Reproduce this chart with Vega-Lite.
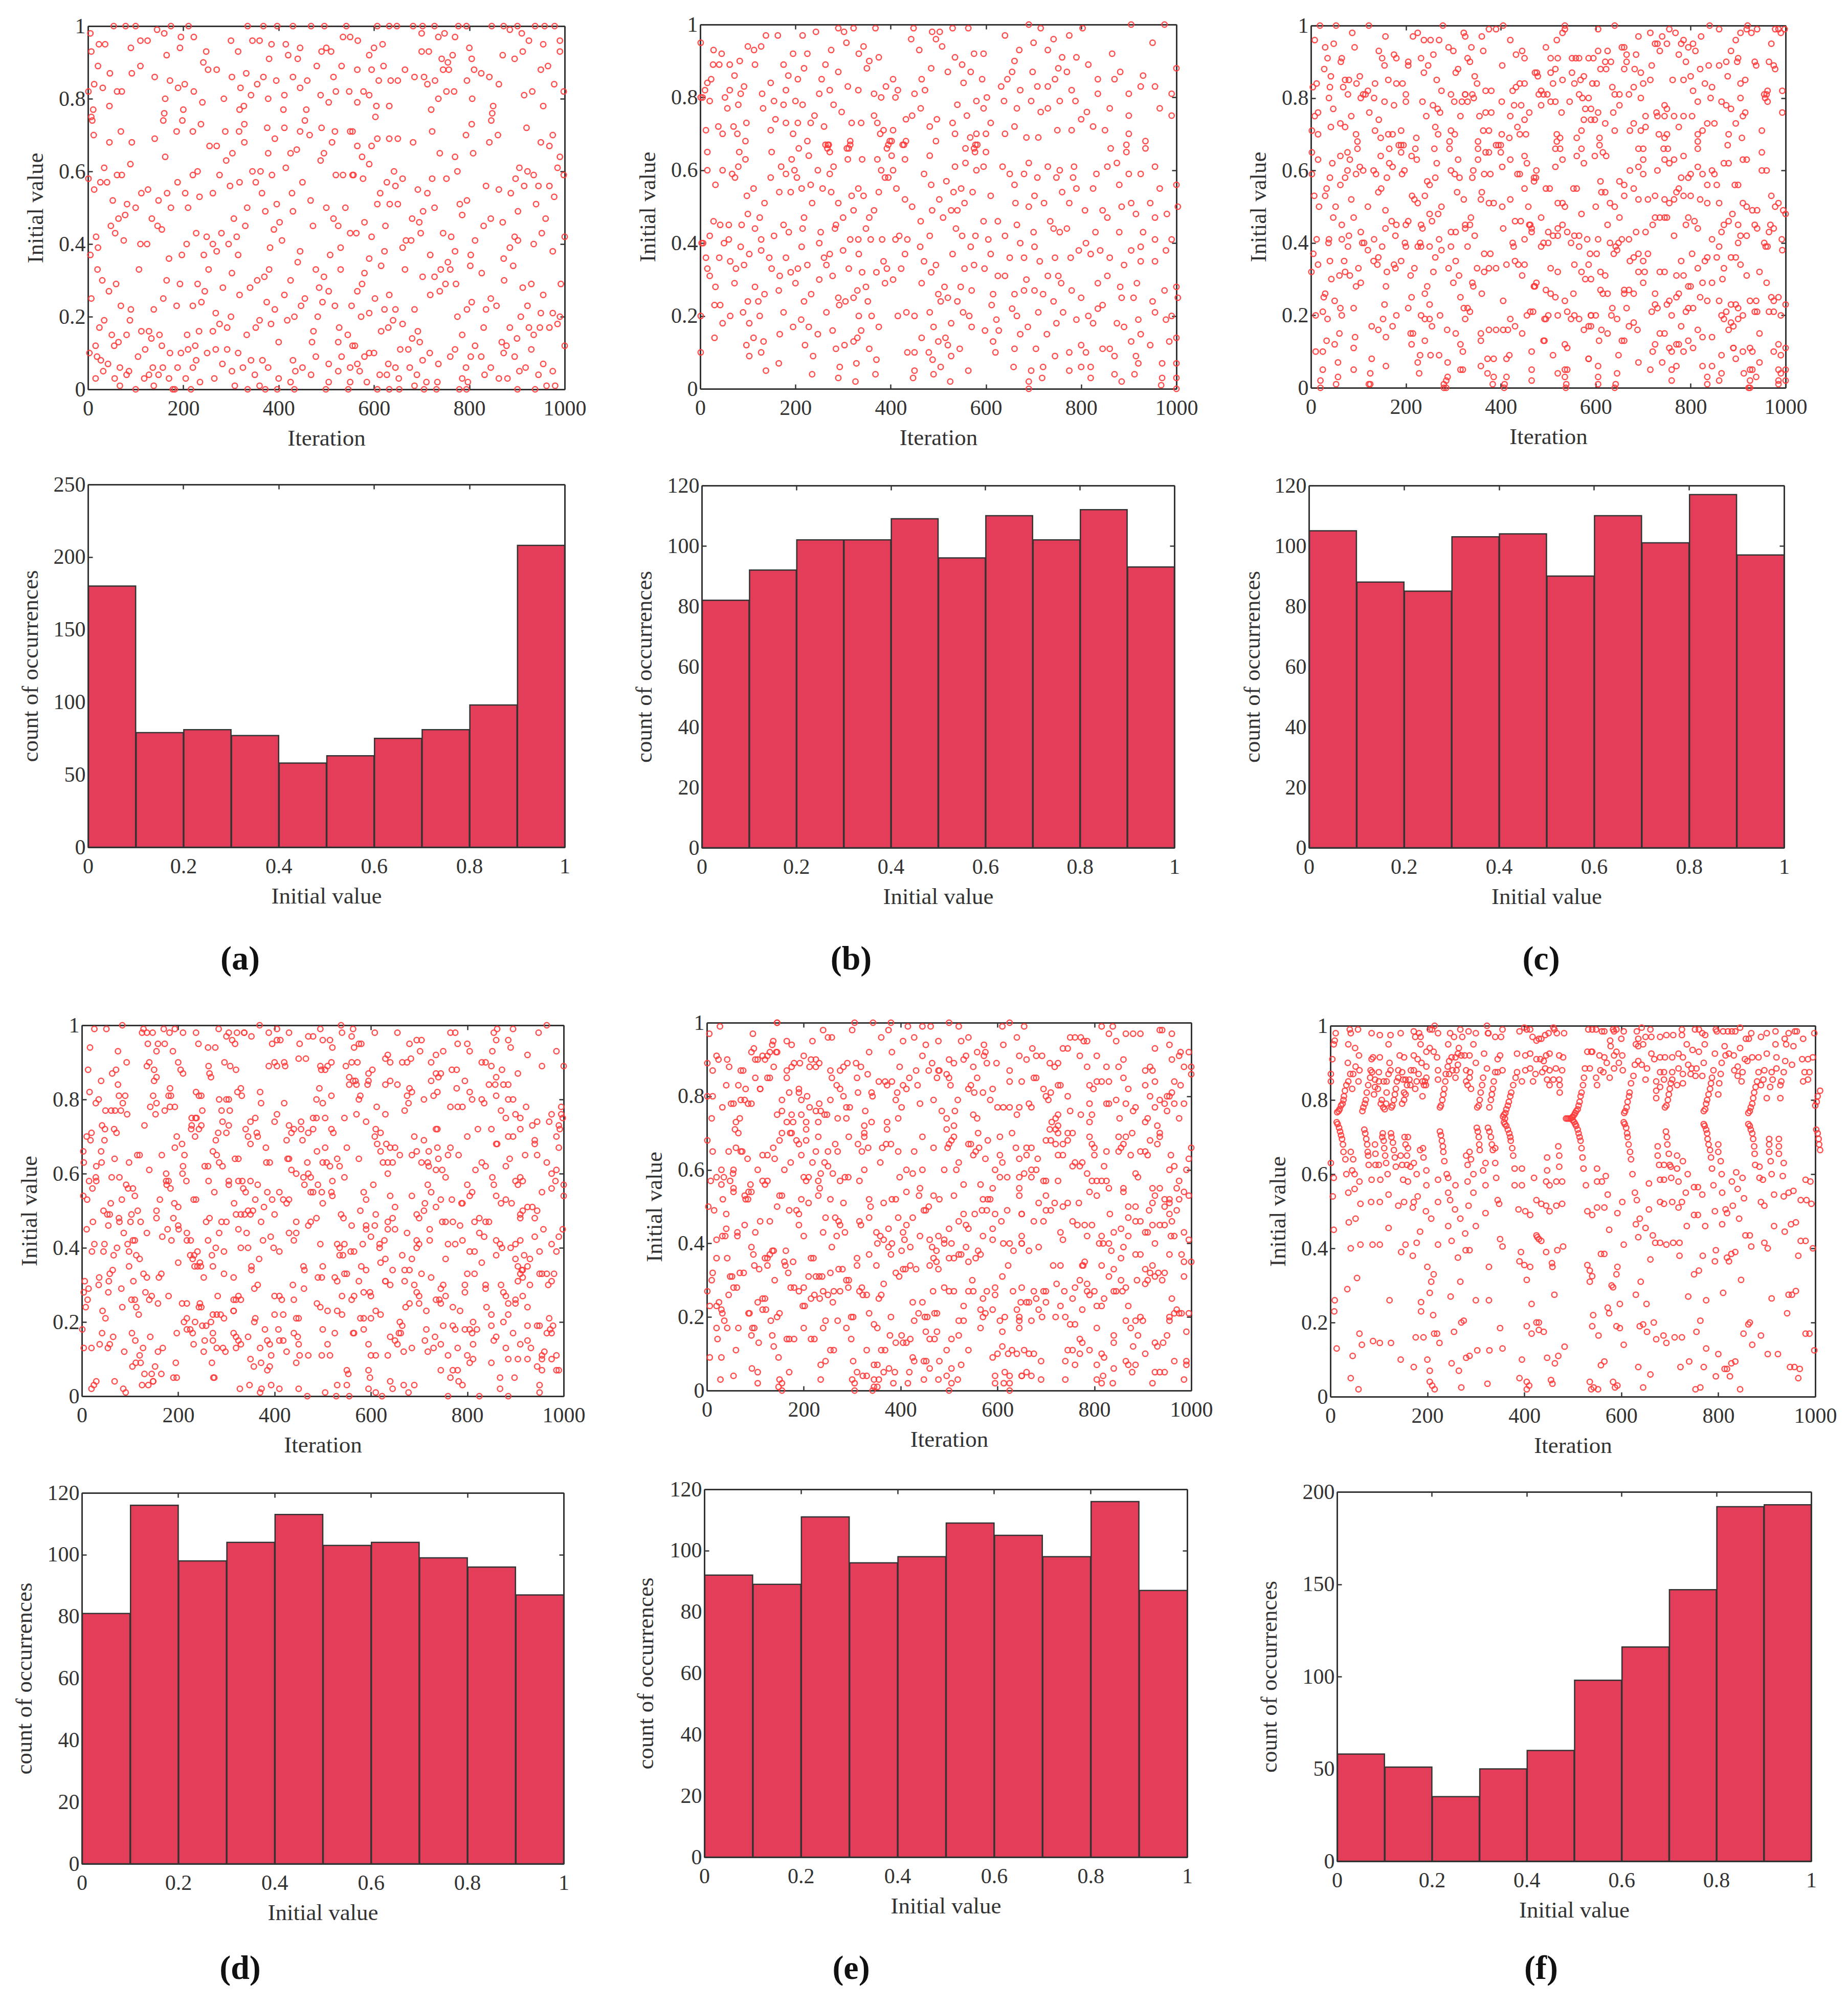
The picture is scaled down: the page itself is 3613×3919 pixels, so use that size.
{"$schema":"https://vega.github.io/schema/vega-lite/v6.json","padding":{"left":25,"top":27,"right":0,"bottom":0},"background":"white","columns":3,"align":"none","bounds":"flush","spacing":{"column":230,"row":181},
"config":{"view":{"stroke":null},"font":"Liberation Serif","point":{"size":110,"stroke":"#ff3b3b","strokeWidth":2.5,"fill":null,"filled":false,"opacity":0.9},"bar":{"fill":"#e33d5a","stroke":"#333","strokeWidth":2.5},"rule":{"opacity":0},"axis":{"grid":false,"tickSize":-9,"tickColor":"#333","tickWidth":2.5,"domainColor":"#333","domainWidth":3,"labelFont":"Liberation Serif","titleFont":"Liberation Serif","labelFontSize":42,"titleFontSize":45,"labelColor":"#333","titleColor":"#333","titleFontWeight":"normal","labelOverlap":false,"labelFlush":false,"labelBound":false},"axisX":{"titleY":95,"titleBaseline":"middle","labelPadding":26},"axisY":{"titleX":-103,"titleBaseline":"middle","labelPadding":14},"axisTop":{"labels":false},"axisRight":{"labels":false},"title":{"font":"Liberation Serif","fontSize":66,"fontWeight":"bold","color":"#111","orient":"bottom","frame":"group"}},
"datasets":{
"sa":[{"x":5,"y":0.98},{"x":7,"y":0.93},{"x":23,"y":0.95},{"x":36,"y":0.95},{"x":21,"y":0.89},{"x":46,"y":0.87},{"x":31,"y":0.83},{"x":13,"y":0.84},{"x":1,"y":0.82},{"x":61,"y":0.82},{"x":71,"y":0.82},{"x":45,"y":0.78},{"x":11,"y":0.77},{"x":7,"y":0.75},{"x":9,"y":0.74},{"x":12,"y":0.7},{"x":69,"y":0.71},{"x":45,"y":0.68},{"x":92,"y":0.68},{"x":89,"y":0.62},{"x":34,"y":0.61},{"x":61,"y":0.59},{"x":71,"y":0.59},{"x":1,"y":0.58},{"x":26,"y":0.57},{"x":40,"y":0.57},{"x":13,"y":0.55},{"x":52,"y":0.52},{"x":82,"y":0.51},{"x":100,"y":0.5},{"x":78,"y":0.48},{"x":64,"y":0.47},{"x":48,"y":0.45},{"x":57,"y":0.43},{"x":75,"y":0.41},{"x":17,"y":0.42},{"x":21,"y":0.39},{"x":5,"y":0.37},{"x":20,"y":0.33},{"x":30,"y":0.3},{"x":59,"y":0.29},{"x":44,"y":0.27},{"x":7,"y":0.25},{"x":69,"y":0.23},{"x":90,"y":0.22},{"x":88,"y":0.19},{"x":34,"y":0.19},{"x":24,"y":0.17},{"x":50,"y":0.15},{"x":81,"y":0.15},{"x":64,"y":0.13},{"x":55,"y":0.12},{"x":16,"y":0.12},{"x":3,"y":0.1},{"x":19,"y":0.09},{"x":27,"y":0.08},{"x":42,"y":0.07},{"x":67,"y":0.06},{"x":32,"y":0.05},{"x":86,"y":0.05},{"x":16,"y":0.03},{"x":56,"y":0.03},{"x":81,"y":0.04},{"x":67,"y":0.01},{"x":54,"y":1},{"x":79,"y":1},{"x":100,"y":1},{"x":174,"y":1},{"x":211,"y":1},{"x":335,"y":1},{"x":368,"y":1},{"x":397,"y":1},{"x":430,"y":1},{"x":468,"y":1},{"x":496,"y":1},{"x":542,"y":1},{"x":607,"y":1},{"x":632,"y":1},{"x":648,"y":1},{"x":682,"y":1},{"x":702,"y":1},{"x":727,"y":1},{"x":777,"y":1},{"x":794,"y":1},{"x":847,"y":1},{"x":872,"y":1},{"x":901,"y":1},{"x":938,"y":1},{"x":958,"y":1},{"x":979,"y":1},{"x":100,"y":0},{"x":178,"y":0},{"x":182,"y":0},{"x":216,"y":0},{"x":335,"y":0},{"x":372,"y":0},{"x":397,"y":0},{"x":433,"y":0},{"x":499,"y":0},{"x":546,"y":0},{"x":607,"y":0},{"x":632,"y":0},{"x":653,"y":0},{"x":705,"y":0},{"x":731,"y":0},{"x":779,"y":0},{"x":794,"y":0},{"x":901,"y":0},{"x":938,"y":0},{"x":110,"y":0.96},{"x":125,"y":0.96},{"x":90,"y":0.94},{"x":145,"y":0.99},{"x":160,"y":0.98},{"x":110,"y":0.89},{"x":92,"y":0.87},{"x":140,"y":0.86},{"x":165,"y":0.92},{"x":172,"y":0.85},{"x":160,"y":0.76},{"x":158,"y":0.74},{"x":162,"y":0.8},{"x":140,"y":0.69},{"x":162,"y":0.64},{"x":112,"y":0.54},{"x":126,"y":0.55},{"x":166,"y":0.54},{"x":148,"y":0.52},{"x":174,"y":0.5},{"x":134,"y":0.47},{"x":146,"y":0.45},{"x":155,"y":0.44},{"x":110,"y":0.4},{"x":124,"y":0.4},{"x":170,"y":0.36},{"x":107,"y":0.33},{"x":165,"y":0.3},{"x":158,"y":0.25},{"x":138,"y":0.22},{"x":112,"y":0.16},{"x":128,"y":0.16},{"x":150,"y":0.15},{"x":133,"y":0.14},{"x":155,"y":0.12},{"x":120,"y":0.11},{"x":172,"y":0.1},{"x":105,"y":0.09},{"x":157,"y":0.06},{"x":136,"y":0.06},{"x":128,"y":0.04},{"x":148,"y":0.04},{"x":170,"y":0.03},{"x":118,"y":0.03},{"x":138,"y":0.01},{"x":193,"y":0.94},{"x":195,"y":0.97},{"x":222,"y":0.97},{"x":242,"y":0.9},{"x":248,"y":0.93},{"x":252,"y":0.88},{"x":270,"y":0.88},{"x":189,"y":0.83},{"x":203,"y":0.84},{"x":222,"y":0.82},{"x":240,"y":0.79},{"x":200,"y":0.77},{"x":198,"y":0.74},{"x":186,"y":0.71},{"x":220,"y":0.71},{"x":237,"y":0.73},{"x":255,"y":0.67},{"x":270,"y":0.67},{"x":290,"y":0.63},{"x":188,"y":0.57},{"x":220,"y":0.59},{"x":230,"y":0.6},{"x":204,"y":0.54},{"x":210,"y":0.5},{"x":234,"y":0.53},{"x":262,"y":0.54},{"x":276,"y":0.59},{"x":298,"y":0.56},{"x":227,"y":0.43},{"x":249,"y":0.42},{"x":262,"y":0.4},{"x":270,"y":0.38},{"x":280,"y":0.43},{"x":295,"y":0.4},{"x":207,"y":0.4},{"x":197,"y":0.37},{"x":243,"y":0.37},{"x":253,"y":0.33},{"x":193,"y":0.29},{"x":230,"y":0.29},{"x":283,"y":0.28},{"x":245,"y":0.27},{"x":186,"y":0.23},{"x":220,"y":0.23},{"x":238,"y":0.24},{"x":268,"y":0.21},{"x":208,"y":0.15},{"x":233,"y":0.16},{"x":262,"y":0.16},{"x":276,"y":0.18},{"x":292,"y":0.17},{"x":225,"y":0.12},{"x":195,"y":0.1},{"x":210,"y":0.11},{"x":250,"y":0.1},{"x":268,"y":0.11},{"x":292,"y":0.11},{"x":282,"y":0.07},{"x":227,"y":0.08},{"x":220,"y":0.06},{"x":188,"y":0.06},{"x":265,"y":0.03},{"x":205,"y":0.03},{"x":235,"y":0.02},{"x":300,"y":0.96},{"x":315,"y":0.93},{"x":302,"y":0.86},{"x":320,"y":0.83},{"x":332,"y":0.87},{"x":285,"y":0.8},{"x":318,"y":0.77},{"x":327,"y":0.78},{"x":328,"y":0.73},{"x":317,"y":0.71},{"x":288,"y":0.71},{"x":328,"y":0.68},{"x":303,"y":0.65},{"x":318,"y":0.57},{"x":334,"y":0.5},{"x":306,"y":0.47},{"x":330,"y":0.45},{"x":312,"y":0.42},{"x":315,"y":0.37},{"x":302,"y":0.32},{"x":318,"y":0.26},{"x":300,"y":0.2},{"x":333,"y":0.15},{"x":315,"y":0.1},{"x":302,"y":0.05},{"x":325,"y":0.06},{"x":308,"y":0.01},{"x":345,"y":0.96},{"x":360,"y":0.96},{"x":380,"y":0.91},{"x":385,"y":0.95},{"x":395,"y":0.85},{"x":355,"y":0.84},{"x":368,"y":0.86},{"x":342,"y":0.81},{"x":378,"y":0.8},{"x":376,"y":0.72},{"x":392,"y":0.69},{"x":378,"y":0.65},{"x":345,"y":0.6},{"x":362,"y":0.6},{"x":352,"y":0.57},{"x":365,"y":0.54},{"x":372,"y":0.49},{"x":386,"y":0.59},{"x":396,"y":0.51},{"x":390,"y":0.44},{"x":402,"y":0.46},{"x":407,"y":0.41},{"x":382,"y":0.39},{"x":380,"y":0.33},{"x":340,"y":0.28},{"x":355,"y":0.3},{"x":370,"y":0.31},{"x":375,"y":0.24},{"x":392,"y":0.22},{"x":352,"y":0.17},{"x":360,"y":0.19},{"x":384,"y":0.18},{"x":400,"y":0.13},{"x":342,"y":0.08},{"x":366,"y":0.08},{"x":378,"y":0.06},{"x":350,"y":0.04},{"x":400,"y":0.03},{"x":360,"y":0.01},{"x":415,"y":0.95},{"x":420,"y":0.92},{"x":440,"y":0.91},{"x":445,"y":0.94},{"x":430,"y":0.86},{"x":412,"y":0.81},{"x":445,"y":0.83},{"x":460,"y":0.85},{"x":410,"y":0.77},{"x":458,"y":0.77},{"x":412,"y":0.72},{"x":445,"y":0.71},{"x":465,"y":0.7},{"x":455,"y":0.74},{"x":425,"y":0.65},{"x":438,"y":0.66},{"x":415,"y":0.61},{"x":450,"y":0.57},{"x":428,"y":0.54},{"x":467,"y":0.52},{"x":430,"y":0.49},{"x":472,"y":0.45},{"x":445,"y":0.38},{"x":440,"y":0.35},{"x":478,"y":0.33},{"x":425,"y":0.3},{"x":412,"y":0.26},{"x":455,"y":0.25},{"x":447,"y":0.23},{"x":485,"y":0.28},{"x":433,"y":0.2},{"x":418,"y":0.19},{"x":482,"y":0.2},{"x":473,"y":0.16},{"x":470,"y":0.13},{"x":478,"y":0.09},{"x":430,"y":0.08},{"x":450,"y":0.06},{"x":435,"y":0.05},{"x":468,"y":0.04},{"x":425,"y":0.02},{"x":500,"y":0.94},{"x":490,"y":0.93},{"x":510,"y":0.93},{"x":535,"y":0.97},{"x":550,"y":0.97},{"x":480,"y":0.89},{"x":515,"y":0.86},{"x":532,"y":0.89},{"x":488,"y":0.81},{"x":505,"y":0.79},{"x":520,"y":0.82},{"x":548,"y":0.82},{"x":490,"y":0.72},{"x":518,"y":0.71},{"x":550,"y":0.71},{"x":512,"y":0.68},{"x":495,"y":0.65},{"x":488,"y":0.63},{"x":520,"y":0.59},{"x":535,"y":0.59},{"x":557,"y":0.59},{"x":500,"y":0.5},{"x":540,"y":0.5},{"x":515,"y":0.47},{"x":525,"y":0.45},{"x":550,"y":0.43},{"x":530,"y":0.39},{"x":508,"y":0.37},{"x":530,"y":0.33},{"x":495,"y":0.31},{"x":505,"y":0.27},{"x":492,"y":0.24},{"x":518,"y":0.23},{"x":553,"y":0.23},{"x":527,"y":0.17},{"x":545,"y":0.15},{"x":525,"y":0.13},{"x":555,"y":0.12},{"x":532,"y":0.09},{"x":505,"y":0.07},{"x":550,"y":0.06},{"x":525,"y":0.05},{"x":505,"y":0.02},{"x":550,"y":0.02},{"x":566,"y":0.96},{"x":590,"y":0.92},{"x":600,"y":0.94},{"x":618,"y":0.95},{"x":565,"y":0.88},{"x":595,"y":0.88},{"x":610,"y":0.85},{"x":620,"y":0.89},{"x":635,"y":0.85},{"x":650,"y":0.85},{"x":578,"y":0.82},{"x":565,"y":0.79},{"x":590,"y":0.81},{"x":605,"y":0.78},{"x":603,"y":0.75},{"x":632,"y":0.78},{"x":555,"y":0.71},{"x":565,"y":0.67},{"x":595,"y":0.67},{"x":607,"y":0.69},{"x":632,"y":0.69},{"x":650,"y":0.69},{"x":575,"y":0.64},{"x":590,"y":0.62},{"x":642,"y":0.6},{"x":555,"y":0.59},{"x":577,"y":0.58},{"x":627,"y":0.57},{"x":645,"y":0.56},{"x":660,"y":0.58},{"x":613,"y":0.54},{"x":607,"y":0.51},{"x":633,"y":0.51},{"x":650,"y":0.51},{"x":580,"y":0.46},{"x":563,"y":0.43},{"x":624,"y":0.45},{"x":595,"y":0.42},{"x":660,"y":0.39},{"x":667,"y":0.41},{"x":678,"y":0.41},{"x":622,"y":0.38},{"x":590,"y":0.36},{"x":615,"y":0.34},{"x":665,"y":0.33},{"x":580,"y":0.32},{"x":575,"y":0.29},{"x":565,"y":0.27},{"x":602,"y":0.25},{"x":632,"y":0.26},{"x":590,"y":0.21},{"x":622,"y":0.22},{"x":645,"y":0.22},{"x":573,"y":0.2},{"x":615,"y":0.16},{"x":630,"y":0.17},{"x":640,"y":0.19},{"x":660,"y":0.18},{"x":560,"y":0.12},{"x":590,"y":0.1},{"x":600,"y":0.1},{"x":580,"y":0.09},{"x":655,"y":0.11},{"x":672,"y":0.11},{"x":630,"y":0.07},{"x":645,"y":0.06},{"x":565,"y":0.07},{"x":570,"y":0.05},{"x":585,"y":0.02},{"x":612,"y":0.04},{"x":627,"y":0.04},{"x":652,"y":0.03},{"x":675,"y":0.06},{"x":690,"y":0.04},{"x":710,"y":0.02},{"x":685,"y":0.01},{"x":733,"y":0.02},{"x":700,"y":0.98},{"x":735,"y":0.97},{"x":748,"y":0.98},{"x":770,"y":0.97},{"x":700,"y":0.93},{"x":715,"y":0.93},{"x":742,"y":0.91},{"x":755,"y":0.9},{"x":765,"y":0.92},{"x":745,"y":0.88},{"x":757,"y":0.88},{"x":665,"y":0.88},{"x":685,"y":0.86},{"x":705,"y":0.86},{"x":728,"y":0.85},{"x":712,"y":0.84},{"x":735,"y":0.8},{"x":752,"y":0.82},{"x":768,"y":0.82},{"x":720,"y":0.77},{"x":722,"y":0.71},{"x":682,"y":0.68},{"x":738,"y":0.65},{"x":770,"y":0.64},{"x":722,"y":0.58},{"x":752,"y":0.58},{"x":775,"y":0.6},{"x":692,"y":0.55},{"x":712,"y":0.54},{"x":780,"y":0.51},{"x":795,"y":0.52},{"x":727,"y":0.5},{"x":703,"y":0.49},{"x":785,"y":0.48},{"x":680,"y":0.47},{"x":695,"y":0.46},{"x":698,"y":0.43},{"x":745,"y":0.43},{"x":762,"y":0.42},{"x":770,"y":0.38},{"x":718,"y":0.37},{"x":755,"y":0.35},{"x":760,"y":0.33},{"x":740,"y":0.33},{"x":727,"y":0.31},{"x":702,"y":0.31},{"x":750,"y":0.29},{"x":772,"y":0.29},{"x":738,"y":0.27},{"x":718,"y":0.26},{"x":685,"y":0.22},{"x":795,"y":0.22},{"x":775,"y":0.2},{"x":805,"y":0.24},{"x":692,"y":0.16},{"x":680,"y":0.14},{"x":696,"y":0.13},{"x":785,"y":0.15},{"x":717,"y":0.1},{"x":760,"y":0.09},{"x":770,"y":0.11},{"x":803,"y":0.09},{"x":702,"y":0.08},{"x":735,"y":0.07},{"x":793,"y":0.06},{"x":785,"y":0.03},{"x":797,"y":0.02},{"x":800,"y":0.94},{"x":805,"y":0.91},{"x":810,"y":0.88},{"x":795,"y":0.85},{"x":825,"y":0.87},{"x":842,"y":0.86},{"x":806,"y":0.8},{"x":862,"y":0.84},{"x":870,"y":0.92},{"x":805,"y":0.73},{"x":793,"y":0.7},{"x":842,"y":0.68},{"x":860,"y":0.7},{"x":850,"y":0.78},{"x":848,"y":0.76},{"x":846,"y":0.74},{"x":808,"y":0.65},{"x":835,"y":0.56},{"x":862,"y":0.55},{"x":887,"y":0.54},{"x":897,"y":0.58},{"x":845,"y":0.47},{"x":870,"y":0.46},{"x":830,"y":0.45},{"x":812,"y":0.41},{"x":803,"y":0.37},{"x":802,"y":0.34},{"x":826,"y":0.32},{"x":872,"y":0.36},{"x":873,"y":0.3},{"x":845,"y":0.25},{"x":835,"y":0.22},{"x":857,"y":0.23},{"x":830,"y":0.17},{"x":868,"y":0.13},{"x":812,"y":0.12},{"x":872,"y":0.1},{"x":825,"y":0.09},{"x":832,"y":0.04},{"x":845,"y":0.06},{"x":862,"y":0.03},{"x":880,"y":0.03},{"x":885,"y":0.99},{"x":910,"y":0.98},{"x":925,"y":0.96},{"x":955,"y":0.95},{"x":990,"y":0.96},{"x":912,"y":0.93},{"x":895,"y":0.91},{"x":990,"y":0.93},{"x":950,"y":0.88},{"x":965,"y":0.89},{"x":978,"y":0.84},{"x":998,"y":0.82},{"x":915,"y":0.81},{"x":932,"y":0.82},{"x":955,"y":0.78},{"x":920,"y":0.72},{"x":975,"y":0.7},{"x":950,"y":0.68},{"x":968,"y":0.67},{"x":990,"y":0.64},{"x":905,"y":0.61},{"x":922,"y":0.6},{"x":985,"y":0.61},{"x":998,"y":0.59},{"x":935,"y":0.59},{"x":915,"y":0.56},{"x":945,"y":0.56},{"x":968,"y":0.56},{"x":978,"y":0.53},{"x":940,"y":0.51},{"x":902,"y":0.49},{"x":960,"y":0.47},{"x":895,"y":0.42},{"x":885,"y":0.39},{"x":902,"y":0.41},{"x":935,"y":0.4},{"x":952,"y":0.43},{"x":975,"y":0.38},{"x":1000,"y":0.42},{"x":892,"y":0.34},{"x":912,"y":0.28},{"x":930,"y":0.29},{"x":992,"y":0.29},{"x":955,"y":0.26},{"x":922,"y":0.23},{"x":950,"y":0.21},{"x":975,"y":0.21},{"x":990,"y":0.2},{"x":985,"y":0.18},{"x":908,"y":0.2},{"x":885,"y":0.17},{"x":925,"y":0.17},{"x":948,"y":0.17},{"x":968,"y":0.17},{"x":900,"y":0.14},{"x":935,"y":0.15},{"x":878,"y":0.12},{"x":895,"y":0.09},{"x":930,"y":0.11},{"x":1000,"y":0.12},{"x":918,"y":0.06},{"x":905,"y":0.05},{"x":955,"y":0.07},{"x":975,"y":0.05},{"x":945,"y":0.04},{"x":962,"y":0.01},{"x":980,"y":0.01}],
"sb":[{"x":1,"y":0.95},{"x":28,"y":0.93},{"x":45,"y":0.92},{"x":62,"y":0.89},{"x":83,"y":0.9},{"x":27,"y":0.89},{"x":40,"y":0.89},{"x":23,"y":0.85},{"x":15,"y":0.84},{"x":10,"y":0.82},{"x":5,"y":0.8},{"x":1,"y":0.8},{"x":20,"y":0.79},{"x":52,"y":0.8},{"x":57,"y":0.77},{"x":62,"y":0.82},{"x":72,"y":0.86},{"x":92,"y":0.83},{"x":85,"y":0.81},{"x":80,"y":0.78},{"x":97,"y":0.73},{"x":100,"y":0.94},{"x":113,"y":0.93},{"x":128,"y":0.94},{"x":138,"y":0.97},{"x":163,"y":0.97},{"x":115,"y":0.89},{"x":175,"y":0.89},{"x":130,"y":0.81},{"x":148,"y":0.84},{"x":155,"y":0.79},{"x":132,"y":0.77},{"x":175,"y":0.78},{"x":185,"y":0.86},{"x":180,"y":0.82},{"x":158,"y":0.74},{"x":148,"y":0.71},{"x":180,"y":0.73},{"x":12,"y":0.71},{"x":38,"y":0.72},{"x":47,"y":0.7},{"x":70,"y":0.72},{"x":78,"y":0.7},{"x":95,"y":0.68},{"x":15,"y":0.65},{"x":82,"y":0.65},{"x":95,"y":0.63},{"x":150,"y":0.65},{"x":170,"y":0.61},{"x":15,"y":0.6},{"x":47,"y":0.6},{"x":80,"y":0.61},{"x":67,"y":0.59},{"x":73,"y":0.58},{"x":148,"y":0.58},{"x":180,"y":0.59},{"x":32,"y":0.56},{"x":112,"y":0.55},{"x":98,"y":0.53},{"x":166,"y":0.54},{"x":190,"y":0.54},{"x":135,"y":0.51},{"x":100,"y":0.48},{"x":125,"y":0.47},{"x":28,"y":0.46},{"x":42,"y":0.45},{"x":60,"y":0.45},{"x":87,"y":0.45},{"x":115,"y":0.44},{"x":20,"y":0.42},{"x":3,"y":0.4},{"x":6,"y":0.4},{"x":50,"y":0.4},{"x":60,"y":0.41},{"x":85,"y":0.39},{"x":128,"y":0.41},{"x":155,"y":0.42},{"x":175,"y":0.45},{"x":186,"y":0.43},{"x":128,"y":0.38},{"x":12,"y":0.36},{"x":40,"y":0.36},{"x":63,"y":0.35},{"x":92,"y":0.34},{"x":103,"y":0.37},{"x":145,"y":0.36},{"x":180,"y":0.36},{"x":205,"y":0.33},{"x":15,"y":0.33},{"x":75,"y":0.33},{"x":150,"y":0.33},{"x":167,"y":0.31},{"x":190,"y":0.32},{"x":200,"y":0.29},{"x":20,"y":0.31},{"x":72,"y":0.29},{"x":32,"y":0.28},{"x":115,"y":0.28},{"x":165,"y":0.27},{"x":135,"y":0.26},{"x":100,"y":0.24},{"x":122,"y":0.24},{"x":30,"y":0.23},{"x":42,"y":0.23},{"x":175,"y":0.21},{"x":63,"y":0.2},{"x":90,"y":0.21},{"x":125,"y":0.2},{"x":1,"y":0.2},{"x":47,"y":0.18},{"x":103,"y":0.18},{"x":195,"y":0.17},{"x":30,"y":0.14},{"x":167,"y":0.15},{"x":112,"y":0.14},{"x":97,"y":0.12},{"x":133,"y":0.13},{"x":128,"y":0.1},{"x":1,"y":0.1},{"x":103,"y":0.09},{"x":165,"y":0.07},{"x":138,"y":0.05},{"x":215,"y":0.97},{"x":243,"y":0.98},{"x":225,"y":0.92},{"x":218,"y":0.88},{"x":195,"y":0.92},{"x":263,"y":0.89},{"x":290,"y":0.87},{"x":275,"y":0.93},{"x":290,"y":0.99},{"x":205,"y":0.85},{"x":255,"y":0.85},{"x":250,"y":0.81},{"x":272,"y":0.82},{"x":200,"y":0.79},{"x":215,"y":0.78},{"x":280,"y":0.78},{"x":297,"y":0.76},{"x":240,"y":0.75},{"x":260,"y":0.72},{"x":205,"y":0.73},{"x":232,"y":0.73},{"x":195,"y":0.7},{"x":225,"y":0.68},{"x":268,"y":0.67},{"x":272,"y":0.65},{"x":207,"y":0.66},{"x":192,"y":0.63},{"x":228,"y":0.64},{"x":280,"y":0.61},{"x":198,"y":0.6},{"x":247,"y":0.6},{"x":272,"y":0.59},{"x":203,"y":0.58},{"x":232,"y":0.56},{"x":257,"y":0.55},{"x":275,"y":0.54},{"x":213,"y":0.55},{"x":290,"y":0.51},{"x":235,"y":0.51},{"x":218,"y":0.47},{"x":285,"y":0.45},{"x":215,"y":0.44},{"x":253,"y":0.43},{"x":283,"y":0.44},{"x":250,"y":0.4},{"x":213,"y":0.39},{"x":260,"y":0.36},{"x":272,"y":0.37},{"x":225,"y":0.34},{"x":265,"y":0.34},{"x":250,"y":0.3},{"x":278,"y":0.31},{"x":290,"y":0.25},{"x":233,"y":0.26},{"x":218,"y":0.24},{"x":265,"y":0.21},{"x":292,"y":0.23},{"x":212,"y":0.19},{"x":228,"y":0.17},{"x":247,"y":0.15},{"x":278,"y":0.16},{"x":285,"y":0.11},{"x":220,"y":0.12},{"x":237,"y":0.09},{"x":293,"y":0.06},{"x":235,"y":0.04},{"x":290,"y":0.03},{"x":263,"y":0.67},{"x":267,"y":0.66},{"x":270,"y":0.67},{"x":312,"y":0.66},{"x":315,"y":0.67},{"x":308,"y":0.66},{"x":302,"y":0.98},{"x":322,"y":0.99},{"x":307,"y":0.95},{"x":343,"y":0.94},{"x":368,"y":0.99},{"x":333,"y":0.92},{"x":350,"y":0.88},{"x":355,"y":0.9},{"x":375,"y":0.91},{"x":310,"y":0.83},{"x":332,"y":0.82},{"x":365,"y":0.81},{"x":380,"y":0.8},{"x":390,"y":0.83},{"x":405,"y":0.85},{"x":415,"y":0.82},{"x":410,"y":0.8},{"x":365,"y":0.75},{"x":372,"y":0.73},{"x":318,"y":0.73},{"x":338,"y":0.73},{"x":385,"y":0.71},{"x":405,"y":0.71},{"x":378,"y":0.7},{"x":432,"y":0.74},{"x":445,"y":0.75},{"x":315,"y":0.68},{"x":395,"y":0.67},{"x":398,"y":0.68},{"x":402,"y":0.68},{"x":392,"y":0.66},{"x":402,"y":0.64},{"x":425,"y":0.67},{"x":428,"y":0.67},{"x":432,"y":0.68},{"x":430,"y":0.63},{"x":310,"y":0.63},{"x":340,"y":0.63},{"x":372,"y":0.63},{"x":380,"y":0.6},{"x":405,"y":0.6},{"x":388,"y":0.58},{"x":395,"y":0.58},{"x":412,"y":0.55},{"x":332,"y":0.55},{"x":343,"y":0.53},{"x":318,"y":0.53},{"x":375,"y":0.54},{"x":430,"y":0.52},{"x":445,"y":0.5},{"x":322,"y":0.49},{"x":365,"y":0.49},{"x":355,"y":0.47},{"x":348,"y":0.44},{"x":300,"y":0.47},{"x":315,"y":0.41},{"x":332,"y":0.41},{"x":358,"y":0.41},{"x":382,"y":0.41},{"x":410,"y":0.41},{"x":418,"y":0.42},{"x":435,"y":0.41},{"x":300,"y":0.38},{"x":430,"y":0.37},{"x":385,"y":0.35},{"x":333,"y":0.37},{"x":392,"y":0.33},{"x":422,"y":0.33},{"x":312,"y":0.33},{"x":370,"y":0.32},{"x":340,"y":0.32},{"x":405,"y":0.3},{"x":388,"y":0.29},{"x":330,"y":0.27},{"x":348,"y":0.28},{"x":322,"y":0.25},{"x":305,"y":0.24},{"x":352,"y":0.24},{"x":360,"y":0.2},{"x":333,"y":0.2},{"x":415,"y":0.2},{"x":433,"y":0.21},{"x":450,"y":0.2},{"x":375,"y":0.17},{"x":338,"y":0.16},{"x":330,"y":0.14},{"x":322,"y":0.13},{"x":303,"y":0.12},{"x":355,"y":0.11},{"x":435,"y":0.1},{"x":450,"y":0.1},{"x":370,"y":0.08},{"x":328,"y":0.07},{"x":368,"y":0.04},{"x":450,"y":0.05},{"x":326,"y":0.02},{"x":447,"y":0.03},{"x":448,"y":0.99},{"x":443,"y":0.96},{"x":460,"y":0.93},{"x":487,"y":0.98},{"x":503,"y":0.98},{"x":508,"y":0.94},{"x":530,"y":0.99},{"x":563,"y":0.99},{"x":495,"y":0.96},{"x":485,"y":0.88},{"x":520,"y":0.87},{"x":535,"y":0.91},{"x":550,"y":0.89},{"x":465,"y":0.85},{"x":472,"y":0.82},{"x":553,"y":0.84},{"x":450,"y":0.81},{"x":463,"y":0.77},{"x":540,"y":0.78},{"x":497,"y":0.74},{"x":530,"y":0.73},{"x":560,"y":0.75},{"x":482,"y":0.72},{"x":495,"y":0.68},{"x":535,"y":0.7},{"x":567,"y":0.69},{"x":482,"y":0.64},{"x":557,"y":0.66},{"x":557,"y":0.62},{"x":535,"y":0.61},{"x":470,"y":0.59},{"x":485,"y":0.56},{"x":517,"y":0.57},{"x":532,"y":0.54},{"x":548,"y":0.55},{"x":502,"y":0.52},{"x":555,"y":0.51},{"x":487,"y":0.49},{"x":527,"y":0.49},{"x":510,"y":0.47},{"x":463,"y":0.46},{"x":540,"y":0.49},{"x":537,"y":0.44},{"x":550,"y":0.42},{"x":482,"y":0.42},{"x":462,"y":0.39},{"x":568,"y":0.39},{"x":530,"y":0.37},{"x":470,"y":0.35},{"x":495,"y":0.34},{"x":555,"y":0.33},{"x":485,"y":0.32},{"x":465,"y":0.29},{"x":547,"y":0.28},{"x":513,"y":0.28},{"x":500,"y":0.26},{"x":520,"y":0.25},{"x":505,"y":0.24},{"x":540,"y":0.24},{"x":482,"y":0.21},{"x":552,"y":0.21},{"x":565,"y":0.2},{"x":490,"y":0.17},{"x":527,"y":0.18},{"x":570,"y":0.17},{"x":465,"y":0.14},{"x":515,"y":0.14},{"x":500,"y":0.13},{"x":520,"y":0.12},{"x":480,"y":0.1},{"x":545,"y":0.11},{"x":488,"y":0.08},{"x":527,"y":0.09},{"x":505,"y":0.06},{"x":490,"y":0.04},{"x":563,"y":0.05},{"x":525,"y":0.02},{"x":575,"y":0.66},{"x":578,"y":0.67},{"x":582,"y":0.67},{"x":577,"y":0.65},{"x":600,"y":0.65},{"x":580,"y":0.7},{"x":600,"y":0.7},{"x":575,"y":0.92},{"x":595,"y":0.92},{"x":568,"y":0.87},{"x":592,"y":0.85},{"x":580,"y":0.79},{"x":602,"y":0.8},{"x":595,"y":0.77},{"x":610,"y":0.73},{"x":580,"y":0.6},{"x":595,"y":0.61},{"x":572,"y":0.54},{"x":610,"y":0.53},{"x":595,"y":0.46},{"x":625,"y":0.46},{"x":578,"y":0.42},{"x":605,"y":0.41},{"x":610,"y":0.37},{"x":575,"y":0.34},{"x":597,"y":0.33},{"x":625,"y":0.31},{"x":640,"y":0.31},{"x":615,"y":0.26},{"x":612,"y":0.23},{"x":622,"y":0.19},{"x":570,"y":0.27},{"x":598,"y":0.16},{"x":627,"y":0.16},{"x":615,"y":0.13},{"x":620,"y":0.1},{"x":640,"y":0.97},{"x":690,"y":1},{"x":715,"y":0.99},{"x":700,"y":0.95},{"x":742,"y":0.96},{"x":730,"y":0.93},{"x":670,"y":0.93},{"x":660,"y":0.9},{"x":752,"y":0.88},{"x":775,"y":0.97},{"x":803,"y":0.99},{"x":760,"y":0.91},{"x":790,"y":0.91},{"x":698,"y":0.87},{"x":655,"y":0.87},{"x":645,"y":0.85},{"x":745,"y":0.85},{"x":770,"y":0.87},{"x":632,"y":0.83},{"x":672,"y":0.82},{"x":708,"y":0.83},{"x":730,"y":0.83},{"x":780,"y":0.82},{"x":638,"y":0.79},{"x":695,"y":0.79},{"x":755,"y":0.79},{"x":730,"y":0.77},{"x":788,"y":0.79},{"x":665,"y":0.77},{"x":715,"y":0.76},{"x":800,"y":0.74},{"x":660,"y":0.72},{"x":750,"y":0.71},{"x":780,"y":0.71},{"x":640,"y":0.7},{"x":710,"y":0.69},{"x":685,"y":0.69},{"x":690,"y":0.62},{"x":730,"y":0.61},{"x":755,"y":0.6},{"x":785,"y":0.61},{"x":635,"y":0.61},{"x":650,"y":0.59},{"x":680,"y":0.59},{"x":708,"y":0.58},{"x":748,"y":0.58},{"x":783,"y":0.58},{"x":660,"y":0.56},{"x":790,"y":0.55},{"x":760,"y":0.54},{"x":702,"y":0.53},{"x":722,"y":0.51},{"x":775,"y":0.51},{"x":662,"y":0.51},{"x":690,"y":0.5},{"x":735,"y":0.46},{"x":640,"y":0.42},{"x":665,"y":0.45},{"x":700,"y":0.43},{"x":742,"y":0.44},{"x":770,"y":0.44},{"x":755,"y":0.43},{"x":672,"y":0.4},{"x":702,"y":0.39},{"x":650,"y":0.36},{"x":680,"y":0.36},{"x":713,"y":0.35},{"x":745,"y":0.36},{"x":778,"y":0.36},{"x":730,"y":0.31},{"x":685,"y":0.3},{"x":752,"y":0.31},{"x":758,"y":0.29},{"x":680,"y":0.27},{"x":702,"y":0.27},{"x":780,"y":0.27},{"x":660,"y":0.26},{"x":720,"y":0.26},{"x":742,"y":0.24},{"x":655,"y":0.22},{"x":710,"y":0.21},{"x":762,"y":0.21},{"x":665,"y":0.2},{"x":790,"y":0.19},{"x":688,"y":0.17},{"x":748,"y":0.18},{"x":672,"y":0.15},{"x":728,"y":0.15},{"x":660,"y":0.11},{"x":705,"y":0.11},{"x":775,"y":0.1},{"x":745,"y":0.09},{"x":720,"y":0.06},{"x":658,"y":0.06},{"x":695,"y":0.05},{"x":775,"y":0.05},{"x":718,"y":0.03},{"x":690,"y":0.02},{"x":690,"y":0},{"x":800,"y":0.06},{"x":820,"y":0.03},{"x":820,"y":0.06},{"x":815,"y":0.89},{"x":835,"y":0.85},{"x":865,"y":0.92},{"x":870,"y":0.85},{"x":882,"y":0.87},{"x":905,"y":1},{"x":950,"y":0.95},{"x":975,"y":1},{"x":1000,"y":0.88},{"x":925,"y":0.83},{"x":930,"y":0.86},{"x":900,"y":0.81},{"x":955,"y":0.83},{"x":990,"y":0.81},{"x":835,"y":0.81},{"x":860,"y":0.77},{"x":812,"y":0.76},{"x":900,"y":0.75},{"x":965,"y":0.77},{"x":990,"y":0.75},{"x":825,"y":0.72},{"x":850,"y":0.71},{"x":900,"y":0.7},{"x":935,"y":0.68},{"x":895,"y":0.67},{"x":862,"y":0.66},{"x":935,"y":0.66},{"x":895,"y":0.65},{"x":875,"y":0.62},{"x":855,"y":0.61},{"x":955,"y":0.61},{"x":925,"y":0.59},{"x":900,"y":0.59},{"x":832,"y":0.59},{"x":825,"y":0.55},{"x":880,"y":0.56},{"x":965,"y":0.55},{"x":1000,"y":0.56},{"x":905,"y":0.51},{"x":945,"y":0.51},{"x":808,"y":0.49},{"x":845,"y":0.49},{"x":885,"y":0.5},{"x":955,"y":0.47},{"x":980,"y":0.48},{"x":1003,"y":0.5},{"x":855,"y":0.47},{"x":915,"y":0.48},{"x":830,"y":0.43},{"x":880,"y":0.43},{"x":930,"y":0.43},{"x":955,"y":0.41},{"x":810,"y":0.4},{"x":990,"y":0.41},{"x":925,"y":0.39},{"x":840,"y":0.38},{"x":795,"y":0.38},{"x":905,"y":0.38},{"x":978,"y":0.38},{"x":820,"y":0.37},{"x":860,"y":0.36},{"x":925,"y":0.35},{"x":955,"y":0.35},{"x":890,"y":0.34},{"x":855,"y":0.31},{"x":835,"y":0.29},{"x":882,"y":0.28},{"x":917,"y":0.29},{"x":975,"y":0.27},{"x":1000,"y":0.28},{"x":885,"y":0.25},{"x":800,"y":0.25},{"x":910,"y":0.25},{"x":950,"y":0.24},{"x":1003,"y":0.25},{"x":845,"y":0.23},{"x":835,"y":0.22},{"x":990,"y":0.2},{"x":955,"y":0.21},{"x":815,"y":0.2},{"x":875,"y":0.18},{"x":825,"y":0.18},{"x":890,"y":0.17},{"x":920,"y":0.19},{"x":978,"y":0.19},{"x":1000,"y":0.14},{"x":925,"y":0.15},{"x":985,"y":0.13},{"x":905,"y":0.13},{"x":945,"y":0.12},{"x":800,"y":0.12},{"x":845,"y":0.11},{"x":860,"y":0.11},{"x":810,"y":0.1},{"x":915,"y":0.09},{"x":870,"y":0.09},{"x":920,"y":0.07},{"x":970,"y":0.07},{"x":1000,"y":0.07},{"x":870,"y":0.04},{"x":912,"y":0.04},{"x":970,"y":0.03},{"x":1000,"y":0.03},{"x":885,"y":0.02},{"x":968,"y":0.01},{"x":1000,"y":0}],
"sc":[{"x":19,"y":1},{"x":53,"y":1},{"x":122,"y":1},{"x":278,"y":1},{"x":405,"y":1},{"x":535,"y":1},{"x":605,"y":0.99},{"x":640,"y":1},{"x":920,"y":1},{"x":985,"y":0.99},{"x":8,"y":0.96},{"x":30,"y":0.94},{"x":48,"y":0.95},{"x":87,"y":0.98},{"x":92,"y":0.94},{"x":157,"y":0.97},{"x":35,"y":0.91},{"x":65,"y":0.91},{"x":63,"y":0.9},{"x":28,"y":0.88},{"x":143,"y":0.93},{"x":150,"y":0.91},{"x":175,"y":0.92},{"x":180,"y":0.91},{"x":155,"y":0.89},{"x":205,"y":0.89},{"x":12,"y":0.84},{"x":42,"y":0.86},{"x":4,"y":0.83},{"x":40,"y":0.83},{"x":68,"y":0.83},{"x":72,"y":0.85},{"x":80,"y":0.85},{"x":96,"y":0.84},{"x":103,"y":0.86},{"x":135,"y":0.84},{"x":163,"y":0.85},{"x":180,"y":0.84},{"x":193,"y":0.84},{"x":38,"y":0.8},{"x":78,"y":0.81},{"x":105,"y":0.8},{"x":110,"y":0.81},{"x":115,"y":0.81},{"x":120,"y":0.82},{"x":133,"y":0.8},{"x":200,"y":0.81},{"x":155,"y":0.79},{"x":175,"y":0.78},{"x":47,"y":0.77},{"x":200,"y":0.79},{"x":123,"y":0.76},{"x":15,"y":0.76},{"x":8,"y":0.75},{"x":85,"y":0.75},{"x":42,"y":0.72},{"x":2,"y":0.71},{"x":15,"y":0.7},{"x":62,"y":0.73},{"x":72,"y":0.72},{"x":95,"y":0.7},{"x":143,"y":0.74},{"x":135,"y":0.71},{"x":163,"y":0.7},{"x":172,"y":0.7},{"x":190,"y":0.71},{"x":98,"y":0.68},{"x":147,"y":0.69},{"x":185,"y":0.67},{"x":190,"y":0.67},{"x":195,"y":0.67},{"x":2,"y":0.65},{"x":62,"y":0.64},{"x":77,"y":0.65},{"x":98,"y":0.66},{"x":165,"y":0.66},{"x":147,"y":0.64},{"x":190,"y":0.65},{"x":15,"y":0.63},{"x":45,"y":0.62},{"x":82,"y":0.63},{"x":103,"y":0.61},{"x":110,"y":0.6},{"x":132,"y":0.6},{"x":165,"y":0.62},{"x":172,"y":0.61},{"x":2,"y":0.59},{"x":40,"y":0.58},{"x":77,"y":0.6},{"x":72,"y":0.58},{"x":95,"y":0.59},{"x":137,"y":0.59},{"x":160,"y":0.58},{"x":192,"y":0.59},{"x":197,"y":0.6},{"x":33,"y":0.55},{"x":62,"y":0.56},{"x":30,"y":0.53},{"x":7,"y":0.53},{"x":85,"y":0.52},{"x":142,"y":0.54},{"x":148,"y":0.55},{"x":17,"y":0.5},{"x":52,"y":0.5},{"x":120,"y":0.5},{"x":157,"y":0.49},{"x":47,"y":0.47},{"x":90,"y":0.47},{"x":65,"y":0.45},{"x":170,"y":0.46},{"x":180,"y":0.45},{"x":157,"y":0.44},{"x":200,"y":0.45},{"x":12,"y":0.41},{"x":38,"y":0.41},{"x":80,"y":0.42},{"x":105,"y":0.43},{"x":65,"y":0.41},{"x":78,"y":0.39},{"x":37,"y":0.4},{"x":108,"y":0.4},{"x":112,"y":0.4},{"x":133,"y":0.41},{"x":150,"y":0.39},{"x":178,"y":0.42},{"x":198,"y":0.4},{"x":200,"y":0.39},{"x":5,"y":0.37},{"x":40,"y":0.35},{"x":70,"y":0.35},{"x":120,"y":0.38},{"x":142,"y":0.36},{"x":15,"y":0.34},{"x":132,"y":0.35},{"x":140,"y":0.34},{"x":175,"y":0.34},{"x":190,"y":0.35},{"x":1,"y":0.32},{"x":43,"y":0.3},{"x":60,"y":0.31},{"x":72,"y":0.32},{"x":82,"y":0.31},{"x":100,"y":0.33},{"x":105,"y":0.29},{"x":95,"y":0.28},{"x":160,"y":0.32},{"x":178,"y":0.33},{"x":30,"y":0.26},{"x":27,"y":0.25},{"x":50,"y":0.24},{"x":158,"y":0.28},{"x":90,"y":0.22},{"x":62,"y":0.22},{"x":155,"y":0.23},{"x":10,"y":0.2},{"x":35,"y":0.19},{"x":25,"y":0.21},{"x":65,"y":0.2},{"x":152,"y":0.19},{"x":180,"y":0.2},{"x":128,"y":0.17},{"x":142,"y":0.16},{"x":172,"y":0.17},{"x":60,"y":0.15},{"x":93,"y":0.14},{"x":158,"y":0.14},{"x":33,"y":0.13},{"x":50,"y":0.12},{"x":90,"y":0.11},{"x":10,"y":0.1},{"x":25,"y":0.1},{"x":128,"y":0.08},{"x":57,"y":0.07},{"x":90,"y":0.05},{"x":158,"y":0.06},{"x":25,"y":0.05},{"x":57,"y":0.03},{"x":125,"y":0.04},{"x":20,"y":0.02},{"x":53,"y":0.01},{"x":122,"y":0.01},{"x":20,"y":0},{"x":125,"y":0.01},{"x":215,"y":0.97},{"x":225,"y":0.98},{"x":205,"y":0.9},{"x":238,"y":0.96},{"x":252,"y":0.96},{"x":270,"y":0.96},{"x":290,"y":0.94},{"x":232,"y":0.91},{"x":247,"y":0.89},{"x":258,"y":0.92},{"x":238,"y":0.87},{"x":265,"y":0.85},{"x":305,"y":0.87},{"x":300,"y":0.93},{"x":310,"y":0.88},{"x":275,"y":0.82},{"x":295,"y":0.81},{"x":318,"y":0.79},{"x":325,"y":0.81},{"x":302,"y":0.79},{"x":235,"y":0.79},{"x":257,"y":0.78},{"x":267,"y":0.77},{"x":272,"y":0.76},{"x":243,"y":0.75},{"x":315,"y":0.75},{"x":262,"y":0.72},{"x":295,"y":0.71},{"x":303,"y":0.7},{"x":222,"y":0.69},{"x":268,"y":0.7},{"x":292,"y":0.68},{"x":292,"y":0.66},{"x":220,"y":0.66},{"x":260,"y":0.66},{"x":212,"y":0.64},{"x":223,"y":0.63},{"x":265,"y":0.62},{"x":310,"y":0.63},{"x":295,"y":0.6},{"x":303,"y":0.59},{"x":245,"y":0.57},{"x":262,"y":0.58},{"x":250,"y":0.56},{"x":313,"y":0.58},{"x":308,"y":0.54},{"x":322,"y":0.52},{"x":213,"y":0.53},{"x":218,"y":0.52},{"x":225,"y":0.51},{"x":240,"y":0.53},{"x":275,"y":0.5},{"x":250,"y":0.48},{"x":268,"y":0.48},{"x":205,"y":0.46},{"x":232,"y":0.45},{"x":255,"y":0.46},{"x":325,"y":0.45},{"x":235,"y":0.44},{"x":305,"y":0.43},{"x":295,"y":0.43},{"x":230,"y":0.4},{"x":270,"y":0.41},{"x":325,"y":0.44},{"x":232,"y":0.39},{"x":225,"y":0.39},{"x":250,"y":0.39},{"x":275,"y":0.38},{"x":295,"y":0.39},{"x":330,"y":0.39},{"x":262,"y":0.36},{"x":258,"y":0.32},{"x":218,"y":0.33},{"x":210,"y":0.31},{"x":305,"y":0.35},{"x":290,"y":0.33},{"x":312,"y":0.31},{"x":300,"y":0.29},{"x":315,"y":0.25},{"x":245,"y":0.28},{"x":240,"y":0.26},{"x":212,"y":0.25},{"x":250,"y":0.23},{"x":205,"y":0.22},{"x":322,"y":0.22},{"x":330,"y":0.22},{"x":232,"y":0.2},{"x":240,"y":0.19},{"x":272,"y":0.2},{"x":250,"y":0.19},{"x":255,"y":0.17},{"x":210,"y":0.15},{"x":287,"y":0.16},{"x":305,"y":0.15},{"x":215,"y":0.15},{"x":240,"y":0.13},{"x":212,"y":0.12},{"x":315,"y":0.12},{"x":320,"y":0.1},{"x":230,"y":0.09},{"x":252,"y":0.09},{"x":270,"y":0.09},{"x":225,"y":0.07},{"x":288,"y":0.07},{"x":315,"y":0.05},{"x":320,"y":0.05},{"x":228,"y":0.04},{"x":288,"y":0.03},{"x":280,"y":0.01},{"x":285,"y":0},{"x":280,"y":0},{"x":285,"y":0.02},{"x":325,"y":0.97},{"x":322,"y":0.98},{"x":360,"y":0.97},{"x":375,"y":0.99},{"x":390,"y":0.99},{"x":338,"y":0.94},{"x":363,"y":0.93},{"x":420,"y":0.96},{"x":330,"y":0.91},{"x":335,"y":0.9},{"x":432,"y":0.92},{"x":450,"y":0.91},{"x":445,"y":0.93},{"x":403,"y":0.89},{"x":345,"y":0.86},{"x":350,"y":0.84},{"x":368,"y":0.82},{"x":380,"y":0.82},{"x":340,"y":0.81},{"x":325,"y":0.81},{"x":425,"y":0.82},{"x":432,"y":0.83},{"x":440,"y":0.84},{"x":450,"y":0.84},{"x":343,"y":0.8},{"x":330,"y":0.79},{"x":402,"y":0.79},{"x":428,"y":0.78},{"x":443,"y":0.78},{"x":460,"y":0.76},{"x":355,"y":0.75},{"x":368,"y":0.76},{"x":380,"y":0.76},{"x":420,"y":0.75},{"x":450,"y":0.74},{"x":363,"y":0.71},{"x":375,"y":0.71},{"x":390,"y":0.67},{"x":395,"y":0.67},{"x":400,"y":0.67},{"x":402,"y":0.7},{"x":418,"y":0.69},{"x":435,"y":0.72},{"x":440,"y":0.7},{"x":453,"y":0.7},{"x":352,"y":0.68},{"x":352,"y":0.66},{"x":368,"y":0.65},{"x":375,"y":0.65},{"x":400,"y":0.65},{"x":420,"y":0.63},{"x":352,"y":0.63},{"x":403,"y":0.61},{"x":455,"y":0.62},{"x":450,"y":0.64},{"x":342,"y":0.6},{"x":365,"y":0.59},{"x":378,"y":0.59},{"x":435,"y":0.59},{"x":440,"y":0.59},{"x":340,"y":0.58},{"x":450,"y":0.55},{"x":360,"y":0.54},{"x":358,"y":0.52},{"x":375,"y":0.51},{"x":385,"y":0.51},{"x":403,"y":0.5},{"x":420,"y":0.52},{"x":458,"y":0.5},{"x":337,"y":0.47},{"x":335,"y":0.45},{"x":430,"y":0.46},{"x":442,"y":0.46},{"x":405,"y":0.44},{"x":460,"y":0.45},{"x":465,"y":0.43},{"x":345,"y":0.42},{"x":450,"y":0.41},{"x":425,"y":0.4},{"x":427,"y":0.39},{"x":490,"y":0.4},{"x":350,"y":0.33},{"x":365,"y":0.37},{"x":378,"y":0.37},{"x":375,"y":0.33},{"x":365,"y":0.32},{"x":390,"y":0.33},{"x":430,"y":0.35},{"x":437,"y":0.34},{"x":450,"y":0.34},{"x":412,"y":0.34},{"x":445,"y":0.31},{"x":340,"y":0.29},{"x":342,"y":0.28},{"x":360,"y":0.26},{"x":470,"y":0.28},{"x":475,"y":0.29},{"x":405,"y":0.24},{"x":335,"y":0.21},{"x":325,"y":0.19},{"x":420,"y":0.19},{"x":455,"y":0.2},{"x":462,"y":0.21},{"x":468,"y":0.21},{"x":492,"y":0.19},{"x":430,"y":0.17},{"x":405,"y":0.16},{"x":415,"y":0.16},{"x":445,"y":0.15},{"x":358,"y":0.15},{"x":375,"y":0.16},{"x":390,"y":0.16},{"x":358,"y":0.13},{"x":492,"y":0.13},{"x":465,"y":0.1},{"x":418,"y":0.09},{"x":372,"y":0.08},{"x":385,"y":0.08},{"x":412,"y":0.08},{"x":358,"y":0.06},{"x":465,"y":0.05},{"x":372,"y":0.04},{"x":385,"y":0.03},{"x":412,"y":0.03},{"x":465,"y":0.02},{"x":383,"y":0.01},{"x":408,"y":0.01},{"x":407,"y":0},{"x":495,"y":0.94},{"x":505,"y":0.91},{"x":520,"y":0.91},{"x":518,"y":0.96},{"x":535,"y":0.99},{"x":530,"y":0.98},{"x":515,"y":0.88},{"x":472,"y":0.87},{"x":476,"y":0.87},{"x":478,"y":0.86},{"x":505,"y":0.87},{"x":550,"y":0.91},{"x":558,"y":0.91},{"x":565,"y":0.91},{"x":550,"y":0.87},{"x":485,"y":0.82},{"x":480,"y":0.81},{"x":490,"y":0.81},{"x":498,"y":0.81},{"x":510,"y":0.84},{"x":530,"y":0.85},{"x":555,"y":0.84},{"x":568,"y":0.85},{"x":575,"y":0.86},{"x":505,"y":0.79},{"x":515,"y":0.79},{"x":545,"y":0.79},{"x":565,"y":0.81},{"x":572,"y":0.8},{"x":485,"y":0.78},{"x":528,"y":0.76},{"x":578,"y":0.77},{"x":518,"y":0.7},{"x":525,"y":0.69},{"x":560,"y":0.69},{"x":570,"y":0.71},{"x":575,"y":0.74},{"x":518,"y":0.68},{"x":525,"y":0.66},{"x":515,"y":0.66},{"x":570,"y":0.66},{"x":530,"y":0.63},{"x":515,"y":0.61},{"x":560,"y":0.64},{"x":575,"y":0.62},{"x":470,"y":0.58},{"x":474,"y":0.58},{"x":475,"y":0.6},{"x":495,"y":0.55},{"x":503,"y":0.55},{"x":553,"y":0.55},{"x":560,"y":0.55},{"x":470,"y":0.57},{"x":520,"y":0.51},{"x":530,"y":0.51},{"x":535,"y":0.5},{"x":570,"y":0.48},{"x":485,"y":0.47},{"x":462,"y":0.45},{"x":465,"y":0.44},{"x":530,"y":0.45},{"x":500,"y":0.43},{"x":520,"y":0.44},{"x":540,"y":0.43},{"x":555,"y":0.42},{"x":565,"y":0.42},{"x":582,"y":0.41},{"x":510,"y":0.42},{"x":520,"y":0.42},{"x":485,"y":0.39},{"x":500,"y":0.4},{"x":548,"y":0.4},{"x":565,"y":0.39},{"x":588,"y":0.37},{"x":505,"y":0.33},{"x":520,"y":0.32},{"x":555,"y":0.34},{"x":570,"y":0.32},{"x":578,"y":0.3},{"x":470,"y":0.28},{"x":472,"y":0.28},{"x":553,"y":0.26},{"x":495,"y":0.27},{"x":505,"y":0.26},{"x":515,"y":0.25},{"x":535,"y":0.24},{"x":540,"y":0.21},{"x":500,"y":0.2},{"x":520,"y":0.2},{"x":555,"y":0.2},{"x":565,"y":0.19},{"x":548,"y":0.19},{"x":590,"y":0.2},{"x":590,"y":0.17},{"x":495,"y":0.19},{"x":490,"y":0.13},{"x":575,"y":0.16},{"x":510,"y":0.09},{"x":535,"y":0.12},{"x":540,"y":0.11},{"x":585,"y":0.08},{"x":535,"y":0.05},{"x":540,"y":0.05},{"x":520,"y":0.04},{"x":535,"y":0.03},{"x":538,"y":0.01},{"x":537,"y":0},{"x":605,"y":0.93},{"x":625,"y":0.93},{"x":620,"y":0.9},{"x":632,"y":0.9},{"x":585,"y":0.91},{"x":595,"y":0.91},{"x":610,"y":0.88},{"x":622,"y":0.88},{"x":655,"y":0.94},{"x":660,"y":0.94},{"x":665,"y":0.92},{"x":690,"y":0.97},{"x":685,"y":0.92},{"x":660,"y":0.88},{"x":665,"y":0.9},{"x":682,"y":0.88},{"x":695,"y":0.87},{"x":602,"y":0.84},{"x":593,"y":0.84},{"x":635,"y":0.83},{"x":640,"y":0.81},{"x":650,"y":0.81},{"x":700,"y":0.84},{"x":680,"y":0.83},{"x":670,"y":0.81},{"x":695,"y":0.8},{"x":585,"y":0.8},{"x":590,"y":0.77},{"x":605,"y":0.76},{"x":637,"y":0.76},{"x":650,"y":0.78},{"x":705,"y":0.75},{"x":590,"y":0.74},{"x":598,"y":0.74},{"x":620,"y":0.73},{"x":680,"y":0.73},{"x":705,"y":0.72},{"x":672,"y":0.71},{"x":695,"y":0.71},{"x":608,"y":0.69},{"x":640,"y":0.71},{"x":700,"y":0.66},{"x":690,"y":0.66},{"x":608,"y":0.67},{"x":615,"y":0.65},{"x":622,"y":0.64},{"x":598,"y":0.64},{"x":700,"y":0.63},{"x":672,"y":0.6},{"x":690,"y":0.61},{"x":700,"y":0.59},{"x":650,"y":0.57},{"x":610,"y":0.57},{"x":620,"y":0.54},{"x":660,"y":0.56},{"x":680,"y":0.55},{"x":612,"y":0.54},{"x":660,"y":0.53},{"x":630,"y":0.51},{"x":690,"y":0.52},{"x":600,"y":0.5},{"x":640,"y":0.5},{"x":650,"y":0.47},{"x":625,"y":0.45},{"x":670,"y":0.41},{"x":685,"y":0.43},{"x":605,"y":0.41},{"x":642,"y":0.39},{"x":630,"y":0.4},{"x":648,"y":0.4},{"x":655,"y":0.41},{"x":602,"y":0.37},{"x":638,"y":0.37},{"x":645,"y":0.38},{"x":672,"y":0.35},{"x":680,"y":0.36},{"x":690,"y":0.37},{"x":700,"y":0.35},{"x":690,"y":0.32},{"x":703,"y":0.32},{"x":610,"y":0.32},{"x":620,"y":0.31},{"x":585,"y":0.34},{"x":590,"y":0.3},{"x":700,"y":0.29},{"x":660,"y":0.27},{"x":670,"y":0.27},{"x":680,"y":0.26},{"x":660,"y":0.26},{"x":610,"y":0.27},{"x":615,"y":0.26},{"x":625,"y":0.26},{"x":635,"y":0.22},{"x":665,"y":0.22},{"x":633,"y":0.2},{"x":645,"y":0.19},{"x":590,"y":0.2},{"x":600,"y":0.2},{"x":585,"y":0.17},{"x":612,"y":0.16},{"x":625,"y":0.15},{"x":670,"y":0.17},{"x":680,"y":0.18},{"x":688,"y":0.16},{"x":607,"y":0.13},{"x":655,"y":0.13},{"x":660,"y":0.13},{"x":585,"y":0.08},{"x":605,"y":0.06},{"x":648,"y":0.09},{"x":690,"y":0.07},{"x":645,"y":0.04},{"x":605,"y":0.03},{"x":605,"y":0.01},{"x":642,"y":0.01},{"x":640,"y":0},{"x":715,"y":0.98},{"x":740,"y":0.97},{"x":725,"y":0.95},{"x":730,"y":0.95},{"x":735,"y":0.93},{"x":750,"y":0.95},{"x":755,"y":0.99},{"x":768,"y":0.98},{"x":780,"y":0.95},{"x":785,"y":0.96},{"x":795,"y":0.94},{"x":805,"y":0.95},{"x":810,"y":0.93},{"x":822,"y":0.97},{"x":840,"y":1},{"x":860,"y":0.99},{"x":718,"y":0.89},{"x":775,"y":0.92},{"x":790,"y":0.9},{"x":820,"y":0.88},{"x":838,"y":0.89},{"x":860,"y":0.89},{"x":875,"y":0.9},{"x":885,"y":0.93},{"x":762,"y":0.85},{"x":785,"y":0.85},{"x":800,"y":0.86},{"x":715,"y":0.85},{"x":830,"y":0.84},{"x":845,"y":0.83},{"x":878,"y":0.86},{"x":805,"y":0.82},{"x":842,"y":0.8},{"x":815,"y":0.79},{"x":865,"y":0.79},{"x":875,"y":0.78},{"x":885,"y":0.77},{"x":728,"y":0.76},{"x":745,"y":0.75},{"x":730,"y":0.75},{"x":765,"y":0.75},{"x":785,"y":0.75},{"x":803,"y":0.75},{"x":745,"y":0.78},{"x":750,"y":0.77},{"x":775,"y":0.72},{"x":815,"y":0.7},{"x":835,"y":0.73},{"x":850,"y":0.73},{"x":733,"y":0.7},{"x":745,"y":0.69},{"x":750,"y":0.7},{"x":815,"y":0.68},{"x":825,"y":0.71},{"x":880,"y":0.7},{"x":743,"y":0.66},{"x":752,"y":0.66},{"x":815,"y":0.66},{"x":878,"y":0.67},{"x":745,"y":0.63},{"x":765,"y":0.63},{"x":785,"y":0.64},{"x":870,"y":0.62},{"x":880,"y":0.62},{"x":755,"y":0.62},{"x":730,"y":0.6},{"x":780,"y":0.58},{"x":800,"y":0.59},{"x":815,"y":0.61},{"x":825,"y":0.59},{"x":845,"y":0.6},{"x":850,"y":0.59},{"x":795,"y":0.58},{"x":835,"y":0.56},{"x":855,"y":0.56},{"x":893,"y":0.56},{"x":770,"y":0.54},{"x":775,"y":0.55},{"x":710,"y":0.52},{"x":725,"y":0.53},{"x":745,"y":0.52},{"x":765,"y":0.52},{"x":785,"y":0.53},{"x":800,"y":0.53},{"x":820,"y":0.52},{"x":755,"y":0.51},{"x":835,"y":0.51},{"x":860,"y":0.51},{"x":725,"y":0.47},{"x":735,"y":0.47},{"x":745,"y":0.47},{"x":750,"y":0.47},{"x":795,"y":0.47},{"x":720,"y":0.45},{"x":765,"y":0.42},{"x":790,"y":0.45},{"x":808,"y":0.46},{"x":815,"y":0.44},{"x":870,"y":0.45},{"x":880,"y":0.46},{"x":888,"y":0.48},{"x":705,"y":0.43},{"x":845,"y":0.41},{"x":865,"y":0.43},{"x":710,"y":0.37},{"x":860,"y":0.39},{"x":780,"y":0.35},{"x":803,"y":0.37},{"x":830,"y":0.35},{"x":835,"y":0.36},{"x":855,"y":0.36},{"x":885,"y":0.36},{"x":815,"y":0.33},{"x":735,"y":0.32},{"x":745,"y":0.32},{"x":770,"y":0.31},{"x":785,"y":0.31},{"x":845,"y":0.29},{"x":825,"y":0.29},{"x":870,"y":0.33},{"x":867,"y":0.3},{"x":800,"y":0.28},{"x":795,"y":0.28},{"x":725,"y":0.26},{"x":775,"y":0.26},{"x":770,"y":0.25},{"x":820,"y":0.25},{"x":835,"y":0.24},{"x":860,"y":0.24},{"x":755,"y":0.24},{"x":725,"y":0.23},{"x":718,"y":0.21},{"x":730,"y":0.22},{"x":750,"y":0.23},{"x":795,"y":0.22},{"x":805,"y":0.22},{"x":875,"y":0.21},{"x":885,"y":0.23},{"x":760,"y":0.2},{"x":790,"y":0.21},{"x":870,"y":0.19},{"x":865,"y":0.2},{"x":780,"y":0.17},{"x":880,"y":0.16},{"x":890,"y":0.17},{"x":735,"y":0.15},{"x":745,"y":0.15},{"x":815,"y":0.16},{"x":795,"y":0.13},{"x":825,"y":0.14},{"x":845,"y":0.14},{"x":725,"y":0.12},{"x":755,"y":0.11},{"x":770,"y":0.12},{"x":775,"y":0.12},{"x":720,"y":0.1},{"x":785,"y":0.1},{"x":805,"y":0.11},{"x":760,"y":0.1},{"x":865,"y":0.09},{"x":890,"y":0.11},{"x":895,"y":0.08},{"x":740,"y":0.07},{"x":770,"y":0.06},{"x":825,"y":0.06},{"x":845,"y":0.06},{"x":715,"y":0.05},{"x":760,"y":0.05},{"x":865,"y":0.04},{"x":760,"y":0.02},{"x":835,"y":0.03},{"x":835,"y":0.01},{"x":860,"y":0.02},{"x":905,"y":0.98},{"x":918,"y":0.99},{"x":928,"y":0.98},{"x":940,"y":0.99},{"x":978,"y":0.99},{"x":990,"y":0.98},{"x":998,"y":0.99},{"x":895,"y":0.96},{"x":970,"y":0.95},{"x":975,"y":0.89},{"x":900,"y":0.91},{"x":898,"y":0.9},{"x":935,"y":0.9},{"x":938,"y":0.89},{"x":965,"y":0.9},{"x":978,"y":0.88},{"x":905,"y":0.84},{"x":915,"y":0.85},{"x":955,"y":0.81},{"x":960,"y":0.81},{"x":962,"y":0.82},{"x":905,"y":0.8},{"x":993,"y":0.82},{"x":957,"y":0.8},{"x":962,"y":0.79},{"x":993,"y":0.76},{"x":910,"y":0.75},{"x":915,"y":0.76},{"x":895,"y":0.73},{"x":950,"y":0.71},{"x":908,"y":0.69},{"x":950,"y":0.65},{"x":910,"y":0.63},{"x":918,"y":0.63},{"x":900,"y":0.56},{"x":950,"y":0.6},{"x":960,"y":0.6},{"x":910,"y":0.51},{"x":918,"y":0.5},{"x":930,"y":0.49},{"x":940,"y":0.49},{"x":970,"y":0.53},{"x":978,"y":0.5},{"x":985,"y":0.51},{"x":995,"y":0.49},{"x":1000,"y":0.48},{"x":935,"y":0.45},{"x":940,"y":0.44},{"x":965,"y":0.43},{"x":975,"y":0.44},{"x":968,"y":0.45},{"x":900,"y":0.45},{"x":905,"y":0.42},{"x":918,"y":0.42},{"x":900,"y":0.4},{"x":955,"y":0.4},{"x":958,"y":0.39},{"x":962,"y":0.39},{"x":992,"y":0.41},{"x":993,"y":0.38},{"x":895,"y":0.36},{"x":905,"y":0.34},{"x":945,"y":0.32},{"x":918,"y":0.31},{"x":960,"y":0.29},{"x":970,"y":0.25},{"x":975,"y":0.24},{"x":985,"y":0.25},{"x":895,"y":0.23},{"x":925,"y":0.24},{"x":938,"y":0.24},{"x":1000,"y":0.23},{"x":900,"y":0.22},{"x":935,"y":0.21},{"x":940,"y":0.21},{"x":965,"y":0.21},{"x":975,"y":0.21},{"x":910,"y":0.2},{"x":900,"y":0.19},{"x":990,"y":0.2},{"x":885,"y":0.18},{"x":945,"y":0.15},{"x":890,"y":0.11},{"x":925,"y":0.11},{"x":930,"y":0.1},{"x":975,"y":0.1},{"x":985,"y":0.12},{"x":1000,"y":0.11},{"x":910,"y":0.1},{"x":990,"y":0.09},{"x":945,"y":0.07},{"x":925,"y":0.05},{"x":930,"y":0.05},{"x":985,"y":0.05},{"x":912,"y":0.04},{"x":938,"y":0.03},{"x":990,"y":0.04},{"x":1000,"y":0.05},{"x":925,"y":0.02},{"x":985,"y":0.02},{"x":1000,"y":0.02},{"x":985,"y":0.01},{"x":922,"y":0},{"x":925,"y":0}],
"sd":[{"x":3,"y":0.66},{"x":26,"y":0.99},{"x":51,"y":0.99},{"x":84,"y":1},{"x":17,"y":0.94},{"x":13,"y":0.88},{"x":63,"y":0.87},{"x":71,"y":0.88},{"x":75,"y":0.93},{"x":93,"y":0.9},{"x":40,"y":0.85},{"x":75,"y":0.84},{"x":16,"y":0.82},{"x":85,"y":0.79},{"x":90,"y":0.81},{"x":77,"y":0.81},{"x":35,"y":0.8},{"x":29,"y":0.79},{"x":49,"y":0.77},{"x":61,"y":0.77},{"x":69,"y":0.77},{"x":81,"y":0.77},{"x":94,"y":0.76},{"x":42,"y":0.73},{"x":48,"y":0.72},{"x":67,"y":0.72},{"x":72,"y":0.71},{"x":10,"y":0.7},{"x":20,"y":0.71},{"x":18,"y":0.69},{"x":47,"y":0.69},{"x":40,"y":0.66},{"x":68,"y":0.64},{"x":41,"y":0.63},{"x":30,"y":0.62},{"x":4,"y":0.63},{"x":98,"y":0.63},{"x":29,"y":0.59},{"x":30,"y":0.58},{"x":62,"y":0.59},{"x":78,"y":0.59},{"x":15,"y":0.58},{"x":92,"y":0.57},{"x":96,"y":0.56},{"x":106,"y":0.56},{"x":22,"y":0.56},{"x":3,"y":0.54},{"x":11,"y":0.53},{"x":83,"y":0.53},{"x":110,"y":0.54},{"x":60,"y":0.52},{"x":45,"y":0.5},{"x":53,"y":0.49},{"x":58,"y":0.49},{"x":103,"y":0.49},{"x":77,"y":0.48},{"x":23,"y":0.47},{"x":55,"y":0.46},{"x":78,"y":0.47},{"x":101,"y":0.47},{"x":10,"y":0.45},{"x":87,"y":0.44},{"x":106,"y":0.42},{"x":110,"y":0.42},{"x":26,"y":0.41},{"x":47,"y":0.41},{"x":95,"y":0.41},{"x":73,"y":0.4},{"x":21,"y":0.39},{"x":45,"y":0.39},{"x":98,"y":0.39},{"x":66,"y":0.38},{"x":113,"y":0.38},{"x":120,"y":0.37},{"x":98,"y":0.35},{"x":64,"y":0.34},{"x":58,"y":0.33},{"x":36,"y":0.32},{"x":56,"y":0.31},{"x":6,"y":0.31},{"x":107,"y":0.31},{"x":35,"y":0.3},{"x":82,"y":0.29},{"x":14,"y":0.29},{"x":4,"y":0.28},{"x":55,"y":0.28},{"x":12,"y":0.26},{"x":103,"y":0.26},{"x":110,"y":0.26},{"x":8,"y":0.24},{"x":84,"y":0.24},{"x":113,"y":0.24},{"x":43,"y":0.23},{"x":49,"y":0.21},{"x":118,"y":0.22},{"x":1,"y":0.18},{"x":42,"y":0.17},{"x":104,"y":0.17},{"x":111,"y":0.15},{"x":65,"y":0.16},{"x":37,"y":0.14},{"x":58,"y":0.14},{"x":54,"y":0.13},{"x":4,"y":0.13},{"x":20,"y":0.13},{"x":88,"y":0.12},{"x":120,"y":0.11},{"x":112,"y":0.09},{"x":105,"y":0.08},{"x":30,"y":0.04},{"x":68,"y":0.04},{"x":25,"y":0.03},{"x":20,"y":0.02},{"x":86,"y":0.02},{"x":91,"y":0.01},{"x":128,"y":0.99},{"x":125,"y":0.98},{"x":135,"y":0.98},{"x":147,"y":0.98},{"x":170,"y":0.99},{"x":182,"y":0.98},{"x":193,"y":0.99},{"x":210,"y":0.98},{"x":137,"y":0.95},{"x":158,"y":0.95},{"x":172,"y":0.95},{"x":155,"y":0.93},{"x":189,"y":0.93},{"x":135,"y":0.89},{"x":140,"y":0.9},{"x":200,"y":0.9},{"x":150,"y":0.88},{"x":205,"y":0.88},{"x":155,"y":0.86},{"x":210,"y":0.87},{"x":150,"y":0.85},{"x":183,"y":0.83},{"x":148,"y":0.81},{"x":185,"y":0.81},{"x":180,"y":0.81},{"x":155,"y":0.79},{"x":142,"y":0.78},{"x":193,"y":0.78},{"x":183,"y":0.78},{"x":172,"y":0.77},{"x":153,"y":0.76},{"x":130,"y":0.73},{"x":197,"y":0.7},{"x":193,"y":0.67},{"x":208,"y":0.68},{"x":115,"y":0.65},{"x":120,"y":0.65},{"x":166,"y":0.65},{"x":140,"y":0.61},{"x":213,"y":0.65},{"x":210,"y":0.62},{"x":209,"y":0.6},{"x":175,"y":0.6},{"x":175,"y":0.58},{"x":180,"y":0.58},{"x":176,"y":0.57},{"x":184,"y":0.56},{"x":217,"y":0.58},{"x":162,"y":0.53},{"x":192,"y":0.52},{"x":200,"y":0.51},{"x":116,"y":0.5},{"x":155,"y":0.5},{"x":155,"y":0.48},{"x":190,"y":0.48},{"x":122,"y":0.47},{"x":200,"y":0.46},{"x":178,"y":0.45},{"x":201,"y":0.45},{"x":218,"y":0.44},{"x":135,"y":0.44},{"x":167,"y":0.43},{"x":186,"y":0.42},{"x":218,"y":0.42},{"x":226,"y":0.42},{"x":225,"y":0.38},{"x":200,"y":0.36},{"x":233,"y":0.38},{"x":160,"y":0.32},{"x":165,"y":0.33},{"x":128,"y":0.33},{"x":135,"y":0.32},{"x":180,"y":0.27},{"x":230,"y":0.37},{"x":234,"y":0.35},{"x":240,"y":0.35},{"x":132,"y":0.28},{"x":145,"y":0.27},{"x":140,"y":0.26},{"x":158,"y":0.25},{"x":208,"y":0.25},{"x":218,"y":0.25},{"x":245,"y":0.25},{"x":212,"y":0.2},{"x":218,"y":0.21},{"x":235,"y":0.2},{"x":218,"y":0.18},{"x":225,"y":0.18},{"x":230,"y":0.17},{"x":197,"y":0.17},{"x":142,"y":0.16},{"x":232,"y":0.14},{"x":158,"y":0.12},{"x":168,"y":0.13},{"x":127,"y":0.13},{"x":122,"y":0.09},{"x":195,"y":0.09},{"x":152,"y":0.08},{"x":130,"y":0.06},{"x":145,"y":0.06},{"x":165,"y":0.06},{"x":148,"y":0.04},{"x":190,"y":0.05},{"x":197,"y":0.05},{"x":125,"y":0.03},{"x":138,"y":0.03},{"x":148,"y":0.04},{"x":237,"y":0.98},{"x":242,"y":0.95},{"x":262,"y":0.94},{"x":284,"y":0.99},{"x":277,"y":0.94},{"x":300,"y":0.97},{"x":305,"y":0.98},{"x":312,"y":0.96},{"x":318,"y":0.95},{"x":322,"y":0.98},{"x":337,"y":0.98},{"x":263,"y":0.89},{"x":265,"y":0.87},{"x":268,"y":0.86},{"x":296,"y":0.9},{"x":308,"y":0.89},{"x":320,"y":0.88},{"x":237,"y":0.82},{"x":243,"y":0.81},{"x":248,"y":0.81},{"x":285,"y":0.8},{"x":300,"y":0.8},{"x":305,"y":0.8},{"x":323,"y":0.82},{"x":330,"y":0.83},{"x":332,"y":0.81},{"x":250,"y":0.77},{"x":290,"y":0.77},{"x":307,"y":0.77},{"x":238,"y":0.75},{"x":228,"y":0.75},{"x":236,"y":0.75},{"x":228,"y":0.73},{"x":227,"y":0.72},{"x":243,"y":0.72},{"x":248,"y":0.73},{"x":292,"y":0.74},{"x":305,"y":0.73},{"x":300,"y":0.71},{"x":235,"y":0.7},{"x":278,"y":0.69},{"x":283,"y":0.71},{"x":272,"y":0.66},{"x":280,"y":0.65},{"x":285,"y":0.63},{"x":292,"y":0.62},{"x":255,"y":0.62},{"x":262,"y":0.62},{"x":318,"y":0.64},{"x":325,"y":0.64},{"x":263,"y":0.58},{"x":305,"y":0.57},{"x":305,"y":0.58},{"x":275,"y":0.55},{"x":316,"y":0.52},{"x":237,"y":0.53},{"x":232,"y":0.53},{"x":265,"y":0.48},{"x":258,"y":0.47},{"x":290,"y":0.47},{"x":300,"y":0.47},{"x":330,"y":0.49},{"x":338,"y":0.49},{"x":285,"y":0.44},{"x":262,"y":0.42},{"x":278,"y":0.4},{"x":295,"y":0.39},{"x":240,"y":0.39},{"x":245,"y":0.36},{"x":247,"y":0.35},{"x":270,"y":0.38},{"x":272,"y":0.35},{"x":315,"y":0.32},{"x":253,"y":0.32},{"x":295,"y":0.33},{"x":282,"y":0.27},{"x":320,"y":0.26},{"x":330,"y":0.26},{"x":243,"y":0.24},{"x":248,"y":0.24},{"x":280,"y":0.22},{"x":272,"y":0.22},{"x":288,"y":0.22},{"x":295,"y":0.21},{"x":315,"y":0.23},{"x":250,"y":0.19},{"x":258,"y":0.19},{"x":268,"y":0.2},{"x":272,"y":0.17},{"x":315,"y":0.17},{"x":320,"y":0.16},{"x":255,"y":0.15},{"x":272,"y":0.15},{"x":280,"y":0.13},{"x":293,"y":0.13},{"x":298,"y":0.12},{"x":325,"y":0.15},{"x":330,"y":0.14},{"x":320,"y":0.13},{"x":253,"y":0.12},{"x":270,"y":0.09},{"x":273,"y":0.05},{"x":275,"y":0.05},{"x":328,"y":0.02},{"x":337,"y":0.98},{"x":352,"y":0.97},{"x":369,"y":1},{"x":388,"y":0.98},{"x":395,"y":0.95},{"x":405,"y":0.99},{"x":405,"y":0.96},{"x":412,"y":0.96},{"x":430,"y":0.98},{"x":452,"y":0.95},{"x":470,"y":0.97},{"x":480,"y":0.97},{"x":400,"y":0.9},{"x":388,"y":0.89},{"x":405,"y":0.89},{"x":420,"y":0.9},{"x":422,"y":0.89},{"x":450,"y":0.91},{"x":465,"y":0.91},{"x":370,"y":0.82},{"x":372,"y":0.79},{"x":350,"y":0.74},{"x":360,"y":0.75},{"x":420,"y":0.79},{"x":405,"y":0.76},{"x":400,"y":0.74},{"x":430,"y":0.73},{"x":440,"y":0.72},{"x":455,"y":0.74},{"x":435,"y":0.71},{"x":425,"y":0.69},{"x":455,"y":0.72},{"x":458,"y":0.69},{"x":470,"y":0.71},{"x":480,"y":0.72},{"x":340,"y":0.72},{"x":345,"y":0.7},{"x":363,"y":0.71},{"x":365,"y":0.7},{"x":350,"y":0.68},{"x":382,"y":0.67},{"x":383,"y":0.63},{"x":390,"y":0.63},{"x":427,"y":0.64},{"x":430,"y":0.64},{"x":468,"y":0.63},{"x":333,"y":0.58},{"x":435,"y":0.61},{"x":325,"y":0.58},{"x":350,"y":0.58},{"x":365,"y":0.57},{"x":335,"y":0.56},{"x":340,"y":0.55},{"x":385,"y":0.55},{"x":445,"y":0.6},{"x":460,"y":0.59},{"x":470,"y":0.6},{"x":475,"y":0.59},{"x":462,"y":0.57},{"x":410,"y":0.55},{"x":475,"y":0.55},{"x":480,"y":0.55},{"x":360,"y":0.53},{"x":395,"y":0.53},{"x":418,"y":0.53},{"x":425,"y":0.52},{"x":430,"y":0.53},{"x":345,"y":0.5},{"x":350,"y":0.49},{"x":355,"y":0.5},{"x":378,"y":0.51},{"x":320,"y":0.49},{"x":400,"y":0.49},{"x":372,"y":0.47},{"x":445,"y":0.47},{"x":475,"y":0.47},{"x":470,"y":0.46},{"x":325,"y":0.45},{"x":342,"y":0.44},{"x":430,"y":0.44},{"x":445,"y":0.44},{"x":376,"y":0.42},{"x":392,"y":0.43},{"x":440,"y":0.42},{"x":398,"y":0.4},{"x":330,"y":0.4},{"x":345,"y":0.4},{"x":410,"y":0.39},{"x":368,"y":0.37},{"x":352,"y":0.35},{"x":352,"y":0.34},{"x":460,"y":0.35},{"x":462,"y":0.34},{"x":438,"y":0.3},{"x":365,"y":0.3},{"x":358,"y":0.29},{"x":461,"y":0.29},{"x":400,"y":0.27},{"x":410,"y":0.27},{"x":415,"y":0.26},{"x":440,"y":0.26},{"x":315,"y":0.26},{"x":325,"y":0.27},{"x":315,"y":0.23},{"x":400,"y":0.22},{"x":418,"y":0.22},{"x":358,"y":0.2},{"x":360,"y":0.21},{"x":445,"y":0.21},{"x":450,"y":0.21},{"x":380,"y":0.18},{"x":408,"y":0.18},{"x":385,"y":0.15},{"x":410,"y":0.15},{"x":418,"y":0.15},{"x":440,"y":0.17},{"x":448,"y":0.16},{"x":450,"y":0.14},{"x":390,"y":0.14},{"x":345,"y":0.16},{"x":370,"y":0.13},{"x":425,"y":0.12},{"x":393,"y":0.11},{"x":350,"y":0.1},{"x":452,"y":0.11},{"x":445,"y":0.09},{"x":372,"y":0.09},{"x":357,"y":0.08},{"x":390,"y":0.08},{"x":385,"y":0.07},{"x":470,"y":0.11},{"x":348,"y":0.03},{"x":393,"y":0.03},{"x":373,"y":0.02},{"x":410,"y":0.02},{"x":370,"y":0.01},{"x":450,"y":0.02},{"x":468,"y":0},{"x":495,"y":0.99},{"x":500,"y":0.96},{"x":515,"y":0.96},{"x":520,"y":0.94},{"x":538,"y":1},{"x":540,"y":0.98},{"x":563,"y":0.99},{"x":560,"y":0.97},{"x":565,"y":0.94},{"x":575,"y":0.95},{"x":580,"y":0.95},{"x":608,"y":0.98},{"x":495,"y":0.89},{"x":497,"y":0.88},{"x":505,"y":0.88},{"x":510,"y":0.89},{"x":518,"y":0.9},{"x":548,"y":0.89},{"x":560,"y":0.9},{"x":572,"y":0.9},{"x":595,"y":0.87},{"x":603,"y":0.88},{"x":555,"y":0.86},{"x":563,"y":0.85},{"x":568,"y":0.85},{"x":555,"y":0.84},{"x":570,"y":0.84},{"x":595,"y":0.85},{"x":593,"y":0.84},{"x":493,"y":0.83},{"x":518,"y":0.81},{"x":578,"y":0.81},{"x":487,"y":0.8},{"x":500,"y":0.79},{"x":575,"y":0.8},{"x":570,"y":0.76},{"x":480,"y":0.75},{"x":487,"y":0.75},{"x":505,"y":0.75},{"x":545,"y":0.75},{"x":590,"y":0.74},{"x":518,"y":0.72},{"x":522,"y":0.71},{"x":610,"y":0.72},{"x":608,"y":0.7},{"x":620,"y":0.71},{"x":488,"y":0.66},{"x":505,"y":0.67},{"x":550,"y":0.67},{"x":613,"y":0.68},{"x":620,"y":0.66},{"x":500,"y":0.63},{"x":508,"y":0.63},{"x":515,"y":0.62},{"x":530,"y":0.64},{"x":535,"y":0.62},{"x":575,"y":0.64},{"x":625,"y":0.63},{"x":520,"y":0.58},{"x":545,"y":0.59},{"x":490,"y":0.57},{"x":498,"y":0.55},{"x":518,"y":0.55},{"x":520,"y":0.54},{"x":585,"y":0.55},{"x":605,"y":0.57},{"x":590,"y":0.53},{"x":500,"y":0.52},{"x":538,"y":0.49},{"x":543,"y":0.48},{"x":578,"y":0.5},{"x":610,"y":0.49},{"x":487,"y":0.48},{"x":560,"y":0.46},{"x":590,"y":0.46},{"x":590,"y":0.45},{"x":608,"y":0.46},{"x":635,"y":0.47},{"x":600,"y":0.43},{"x":583,"y":0.41},{"x":495,"y":0.41},{"x":530,"y":0.41},{"x":545,"y":0.41},{"x":618,"y":0.41},{"x":628,"y":0.42},{"x":535,"y":0.4},{"x":558,"y":0.39},{"x":565,"y":0.39},{"x":618,"y":0.4},{"x":535,"y":0.38},{"x":542,"y":0.38},{"x":500,"y":0.35},{"x":580,"y":0.35},{"x":620,"y":0.36},{"x":630,"y":0.37},{"x":590,"y":0.34},{"x":545,"y":0.33},{"x":550,"y":0.33},{"x":490,"y":0.32},{"x":498,"y":0.32},{"x":525,"y":0.32},{"x":530,"y":0.31},{"x":575,"y":0.31},{"x":630,"y":0.31},{"x":565,"y":0.27},{"x":585,"y":0.28},{"x":598,"y":0.28},{"x":600,"y":0.27},{"x":540,"y":0.27},{"x":488,"y":0.25},{"x":560,"y":0.26},{"x":495,"y":0.24},{"x":510,"y":0.23},{"x":530,"y":0.23},{"x":540,"y":0.22},{"x":610,"y":0.23},{"x":620,"y":0.22},{"x":578,"y":0.21},{"x":585,"y":0.21},{"x":600,"y":0.21},{"x":500,"y":0.18},{"x":525,"y":0.17},{"x":563,"y":0.17},{"x":565,"y":0.17},{"x":585,"y":0.18},{"x":595,"y":0.14},{"x":510,"y":0.14},{"x":600,"y":0.11},{"x":610,"y":0.11},{"x":498,"y":0.11},{"x":515,"y":0.11},{"x":550,"y":0.07},{"x":553,"y":0.06},{"x":595,"y":0.07},{"x":598,"y":0.05},{"x":530,"y":0.03},{"x":550,"y":0.03},{"x":595,"y":0.02},{"x":610,"y":0.01},{"x":505,"y":0.01},{"x":528,"y":0},{"x":555,"y":0},{"x":623,"y":0},{"x":635,"y":0.92},{"x":630,"y":0.91},{"x":655,"y":0.98},{"x":640,"y":0.9},{"x":665,"y":0.9},{"x":680,"y":0.95},{"x":695,"y":0.96},{"x":705,"y":0.96},{"x":675,"y":0.9},{"x":683,"y":0.91},{"x":702,"y":0.93},{"x":725,"y":0.9},{"x":735,"y":0.92},{"x":750,"y":0.93},{"x":765,"y":0.98},{"x":775,"y":0.98},{"x":780,"y":0.95},{"x":800,"y":0.95},{"x":805,"y":0.93},{"x":735,"y":0.87},{"x":725,"y":0.85},{"x":745,"y":0.87},{"x":740,"y":0.86},{"x":768,"y":0.88},{"x":778,"y":0.88},{"x":630,"y":0.84},{"x":640,"y":0.85},{"x":655,"y":0.84},{"x":680,"y":0.83},{"x":685,"y":0.82},{"x":675,"y":0.81},{"x":710,"y":0.8},{"x":730,"y":0.81},{"x":738,"y":0.82},{"x":778,"y":0.83},{"x":795,"y":0.85},{"x":805,"y":0.82},{"x":810,"y":0.8},{"x":670,"y":0.77},{"x":678,"y":0.79},{"x":765,"y":0.78},{"x":790,"y":0.78},{"x":780,"y":0.78},{"x":630,"y":0.76},{"x":612,"y":0.78},{"x":735,"y":0.72},{"x":738,"y":0.72},{"x":690,"y":0.7},{"x":800,"y":0.7},{"x":822,"y":0.72},{"x":710,"y":0.69},{"x":632,"y":0.68},{"x":640,"y":0.67},{"x":650,"y":0.67},{"x":695,"y":0.66},{"x":720,"y":0.66},{"x":738,"y":0.67},{"x":765,"y":0.67},{"x":685,"y":0.65},{"x":660,"y":0.65},{"x":635,"y":0.63},{"x":645,"y":0.63},{"x":705,"y":0.63},{"x":718,"y":0.63},{"x":740,"y":0.64},{"x":760,"y":0.65},{"x":782,"y":0.65},{"x":635,"y":0.6},{"x":720,"y":0.62},{"x":735,"y":0.61},{"x":748,"y":0.61},{"x":755,"y":0.59},{"x":830,"y":0.63},{"x":838,"y":0.62},{"x":817,"y":0.61},{"x":800,"y":0.57},{"x":718,"y":0.57},{"x":725,"y":0.55},{"x":810,"y":0.55},{"x":805,"y":0.54},{"x":640,"y":0.54},{"x":685,"y":0.54},{"x":712,"y":0.52},{"x":745,"y":0.53},{"x":735,"y":0.51},{"x":768,"y":0.53},{"x":790,"y":0.52},{"x":788,"y":0.52},{"x":650,"y":0.51},{"x":645,"y":0.48},{"x":695,"y":0.49},{"x":700,"y":0.48},{"x":710,"y":0.5},{"x":770,"y":0.47},{"x":785,"y":0.46},{"x":748,"y":0.47},{"x":755,"y":0.47},{"x":825,"y":0.48},{"x":815,"y":0.47},{"x":838,"y":0.47},{"x":845,"y":0.47},{"x":635,"y":0.45},{"x":650,"y":0.45},{"x":675,"y":0.44},{"x":722,"y":0.45},{"x":825,"y":0.44},{"x":835,"y":0.43},{"x":695,"y":0.42},{"x":700,"y":0.41},{"x":722,"y":0.42},{"x":760,"y":0.41},{"x":775,"y":0.41},{"x":790,"y":0.42},{"x":805,"y":0.39},{"x":815,"y":0.39},{"x":665,"y":0.38},{"x":695,"y":0.4},{"x":755,"y":0.37},{"x":685,"y":0.37},{"x":830,"y":0.36},{"x":645,"y":0.34},{"x":670,"y":0.34},{"x":680,"y":0.34},{"x":705,"y":0.33},{"x":725,"y":0.32},{"x":745,"y":0.29},{"x":750,"y":0.3},{"x":800,"y":0.33},{"x":815,"y":0.33},{"x":838,"y":0.3},{"x":838,"y":0.29},{"x":795,"y":0.3},{"x":630,"y":0.31},{"x":640,"y":0.3},{"x":670,"y":0.31},{"x":690,"y":0.3},{"x":695,"y":0.28},{"x":700,"y":0.27},{"x":795,"y":0.28},{"x":735,"y":0.26},{"x":742,"y":0.26},{"x":755,"y":0.27},{"x":700,"y":0.25},{"x":672,"y":0.24},{"x":680,"y":0.25},{"x":745,"y":0.25},{"x":715,"y":0.23},{"x":785,"y":0.23},{"x":840,"y":0.24},{"x":770,"y":0.24},{"x":850,"y":0.22},{"x":660,"y":0.2},{"x":665,"y":0.19},{"x":715,"y":0.18},{"x":750,"y":0.19},{"x":770,"y":0.19},{"x":812,"y":0.2},{"x":850,"y":0.19},{"x":775,"y":0.18},{"x":795,"y":0.18},{"x":805,"y":0.18},{"x":820,"y":0.18},{"x":658,"y":0.17},{"x":662,"y":0.17},{"x":810,"y":0.17},{"x":640,"y":0.16},{"x":650,"y":0.15},{"x":655,"y":0.14},{"x":712,"y":0.15},{"x":733,"y":0.16},{"x":745,"y":0.14},{"x":855,"y":0.15},{"x":860,"y":0.16},{"x":685,"y":0.13},{"x":730,"y":0.13},{"x":780,"y":0.13},{"x":812,"y":0.14},{"x":635,"y":0.11},{"x":668,"y":0.12},{"x":718,"y":0.12},{"x":760,"y":0.11},{"x":800,"y":0.11},{"x":812,"y":0.1},{"x":850,"y":0.09},{"x":805,"y":0.09},{"x":745,"y":0.07},{"x":770,"y":0.07},{"x":780,"y":0.07},{"x":765,"y":0.05},{"x":640,"y":0.04},{"x":668,"y":0.03},{"x":690,"y":0.03},{"x":782,"y":0.04},{"x":790,"y":0.03},{"x":645,"y":0.02},{"x":678,"y":0.01},{"x":760,"y":0},{"x":825,"y":0},{"x":855,"y":0.98},{"x":860,"y":0.96},{"x":862,"y":0.99},{"x":885,"y":0.96},{"x":895,"y":0.99},{"x":852,"y":0.93},{"x":890,"y":0.94},{"x":925,"y":0.92},{"x":948,"y":0.98},{"x":965,"y":1},{"x":1000,"y":0.89},{"x":985,"y":0.93},{"x":830,"y":0.9},{"x":838,"y":0.9},{"x":850,"y":0.89},{"x":872,"y":0.88},{"x":955,"y":0.89},{"x":905,"y":0.87},{"x":860,"y":0.86},{"x":845,"y":0.84},{"x":858,"y":0.84},{"x":875,"y":0.84},{"x":885,"y":0.84},{"x":860,"y":0.81},{"x":885,"y":0.8},{"x":895,"y":0.8},{"x":830,"y":0.8},{"x":835,"y":0.79},{"x":922,"y":0.78},{"x":870,"y":0.77},{"x":880,"y":0.75},{"x":900,"y":0.76},{"x":975,"y":0.76},{"x":995,"y":0.78},{"x":995,"y":0.76},{"x":998,"y":0.75},{"x":910,"y":0.75},{"x":935,"y":0.73},{"x":945,"y":0.74},{"x":970,"y":0.74},{"x":990,"y":0.73},{"x":992,"y":0.72},{"x":850,"y":0.72},{"x":885,"y":0.7},{"x":895,"y":0.7},{"x":985,"y":0.7},{"x":910,"y":0.72},{"x":940,"y":0.69},{"x":940,"y":0.68},{"x":860,"y":0.68},{"x":862,"y":0.68},{"x":990,"y":0.67},{"x":920,"y":0.65},{"x":888,"y":0.64},{"x":945,"y":0.65},{"x":965,"y":0.63},{"x":880,"y":0.62},{"x":985,"y":0.61},{"x":975,"y":0.6},{"x":852,"y":0.59},{"x":910,"y":0.59},{"x":900,"y":0.58},{"x":915,"y":0.58},{"x":855,"y":0.57},{"x":905,"y":0.57},{"x":983,"y":0.58},{"x":1000,"y":0.57},{"x":860,"y":0.54},{"x":880,"y":0.53},{"x":955,"y":0.55},{"x":975,"y":0.56},{"x":1000,"y":0.54},{"x":870,"y":0.52},{"x":892,"y":0.52},{"x":915,"y":0.5},{"x":925,"y":0.51},{"x":935,"y":0.51},{"x":945,"y":0.5},{"x":910,"y":0.48},{"x":910,"y":0.49},{"x":940,"y":0.48},{"x":958,"y":0.45},{"x":990,"y":0.43},{"x":998,"y":0.45},{"x":940,"y":0.43},{"x":860,"y":0.42},{"x":868,"y":0.41},{"x":872,"y":0.4},{"x":900,"y":0.41},{"x":910,"y":0.42},{"x":890,"y":0.4},{"x":950,"y":0.39},{"x":975,"y":0.41},{"x":985,"y":0.39},{"x":860,"y":0.38},{"x":900,"y":0.37},{"x":918,"y":0.38},{"x":930,"y":0.37},{"x":905,"y":0.35},{"x":913,"y":0.34},{"x":925,"y":0.35},{"x":910,"y":0.33},{"x":915,"y":0.34},{"x":950,"y":0.33},{"x":955,"y":0.33},{"x":965,"y":0.33},{"x":980,"y":0.33},{"x":905,"y":0.31},{"x":915,"y":0.32},{"x":930,"y":0.3},{"x":975,"y":0.31},{"x":968,"y":0.3},{"x":870,"y":0.3},{"x":875,"y":0.28},{"x":880,"y":0.27},{"x":915,"y":0.27},{"x":900,"y":0.26},{"x":900,"y":0.25},{"x":925,"y":0.24},{"x":885,"y":0.25},{"x":875,"y":0.2},{"x":885,"y":0.22},{"x":925,"y":0.19},{"x":945,"y":0.19},{"x":950,"y":0.19},{"x":970,"y":0.21},{"x":978,"y":0.19},{"x":972,"y":0.18},{"x":965,"y":0.17},{"x":975,"y":0.17},{"x":895,"y":0.17},{"x":880,"y":0.13},{"x":910,"y":0.14},{"x":925,"y":0.15},{"x":932,"y":0.13},{"x":960,"y":0.12},{"x":955,"y":0.11},{"x":885,"y":0.1},{"x":905,"y":0.1},{"x":925,"y":0.1},{"x":955,"y":0.1},{"x":985,"y":0.11},{"x":975,"y":0.1},{"x":945,"y":0.08},{"x":955,"y":0.07},{"x":868,"y":0.05},{"x":898,"y":0.05},{"x":985,"y":0.07},{"x":990,"y":0.07},{"x":868,"y":0.02},{"x":950,"y":0.03},{"x":950,"y":0.01},{"x":885,"y":0}],
"se":[{"x":5,"y":0.97},{"x":27,"y":0.99},{"x":1,"y":0.89},{"x":12,"y":0.87},{"x":20,"y":0.91},{"x":24,"y":0.9},{"x":42,"y":0.9},{"x":46,"y":0.88},{"x":70,"y":0.87},{"x":75,"y":0.87},{"x":92,"y":0.92},{"x":97,"y":0.93},{"x":100,"y":0.9},{"x":115,"y":0.91},{"x":120,"y":0.9},{"x":125,"y":0.91},{"x":130,"y":0.92},{"x":135,"y":0.94},{"x":137,"y":0.95},{"x":143,"y":0.92},{"x":145,"y":1},{"x":95,"y":0.97},{"x":165,"y":0.95},{"x":175,"y":0.94},{"x":100,"y":0.85},{"x":125,"y":0.85},{"x":130,"y":0.85},{"x":40,"y":0.83},{"x":65,"y":0.83},{"x":80,"y":0.82},{"x":110,"y":0.82},{"x":1,"y":0.8},{"x":12,"y":0.8},{"x":32,"y":0.77},{"x":50,"y":0.78},{"x":55,"y":0.78},{"x":70,"y":0.79},{"x":78,"y":0.79},{"x":85,"y":0.78},{"x":92,"y":0.78},{"x":10,"y":0.74},{"x":68,"y":0.74},{"x":60,"y":0.73},{"x":58,"y":0.71},{"x":65,"y":0.7},{"x":1,"y":0.68},{"x":12,"y":0.65},{"x":45,"y":0.65},{"x":60,"y":0.66},{"x":70,"y":0.65},{"x":73,"y":0.65},{"x":84,"y":0.63},{"x":55,"y":0.6},{"x":30,"y":0.6},{"x":54,"y":0.59},{"x":20,"y":0.58},{"x":35,"y":0.58},{"x":8,"y":0.57},{"x":48,"y":0.57},{"x":30,"y":0.56},{"x":55,"y":0.55},{"x":90,"y":0.56},{"x":86,"y":0.54},{"x":55,"y":0.54},{"x":78,"y":0.53},{"x":85,"y":0.52},{"x":92,"y":0.54},{"x":33,"y":0.52},{"x":80,"y":0.52},{"x":3,"y":0.5},{"x":15,"y":0.49},{"x":40,"y":0.48},{"x":78,"y":0.45},{"x":40,"y":0.44},{"x":32,"y":0.42},{"x":38,"y":0.42},{"x":20,"y":0.41},{"x":63,"y":0.43},{"x":63,"y":0.42},{"x":92,"y":0.39},{"x":96,"y":0.37},{"x":20,"y":0.36},{"x":42,"y":0.36},{"x":98,"y":0.34},{"x":12,"y":0.32},{"x":48,"y":0.31},{"x":52,"y":0.31},{"x":68,"y":0.32},{"x":76,"y":0.32},{"x":10,"y":0.3},{"x":55,"y":0.28},{"x":62,"y":0.28},{"x":1,"y":0.27},{"x":45,"y":0.26},{"x":25,"y":0.24},{"x":6,"y":0.23},{"x":20,"y":0.23},{"x":30,"y":0.22},{"x":32,"y":0.21},{"x":36,"y":0.19},{"x":86,"y":0.21},{"x":42,"y":0.17},{"x":65,"y":0.17},{"x":20,"y":0.17},{"x":22,"y":0.14},{"x":94,"y":0.17},{"x":92,"y":0.15},{"x":60,"y":0.11},{"x":6,"y":0.09},{"x":30,"y":0.09},{"x":93,"y":0.06},{"x":105,"y":0.05},{"x":55,"y":0.04},{"x":28,"y":0.03},{"x":105,"y":0.02},{"x":145,"y":1},{"x":105,"y":0.9},{"x":138,"y":0.88},{"x":110,"y":0.82},{"x":145,"y":0.92},{"x":175,"y":0.88},{"x":180,"y":0.89},{"x":165,"y":0.87},{"x":165,"y":0.85},{"x":192,"y":0.89},{"x":200,"y":0.91},{"x":212,"y":0.88},{"x":215,"y":0.9},{"x":225,"y":0.9},{"x":225,"y":0.88},{"x":218,"y":0.95},{"x":170,"y":0.81},{"x":190,"y":0.81},{"x":190,"y":0.82},{"x":195,"y":0.79},{"x":207,"y":0.8},{"x":155,"y":0.79},{"x":145,"y":0.75},{"x":155,"y":0.76},{"x":175,"y":0.75},{"x":178,"y":0.73},{"x":195,"y":0.75},{"x":205,"y":0.73},{"x":212,"y":0.77},{"x":165,"y":0.73},{"x":175,"y":0.7},{"x":185,"y":0.68},{"x":190,"y":0.67},{"x":205,"y":0.71},{"x":205,"y":0.68},{"x":150,"y":0.68},{"x":155,"y":0.7},{"x":172,"y":0.7},{"x":137,"y":0.66},{"x":125,"y":0.64},{"x":115,"y":0.64},{"x":160,"y":0.6},{"x":140,"y":0.63},{"x":173,"y":0.62},{"x":195,"y":0.64},{"x":218,"y":0.62},{"x":225,"y":0.65},{"x":115,"y":0.57},{"x":120,"y":0.56},{"x":125,"y":0.57},{"x":105,"y":0.6},{"x":200,"y":0.58},{"x":210,"y":0.58},{"x":205,"y":0.57},{"x":150,"y":0.53},{"x":155,"y":0.53},{"x":195,"y":0.52},{"x":210,"y":0.51},{"x":145,"y":0.5},{"x":170,"y":0.49},{"x":185,"y":0.49},{"x":190,"y":0.48},{"x":190,"y":0.45},{"x":200,"y":0.42},{"x":110,"y":0.46},{"x":130,"y":0.46},{"x":100,"y":0.43},{"x":130,"y":0.37},{"x":135,"y":0.38},{"x":138,"y":0.38},{"x":125,"y":0.36},{"x":120,"y":0.36},{"x":125,"y":0.34},{"x":108,"y":0.33},{"x":163,"y":0.38},{"x":160,"y":0.35},{"x":162,"y":0.34},{"x":168,"y":0.32},{"x":178,"y":0.35},{"x":215,"y":0.36},{"x":220,"y":0.36},{"x":140,"y":0.3},{"x":210,"y":0.31},{"x":225,"y":0.31},{"x":173,"y":0.28},{"x":180,"y":0.28},{"x":190,"y":0.27},{"x":200,"y":0.28},{"x":105,"y":0.24},{"x":115,"y":0.25},{"x":120,"y":0.25},{"x":115,"y":0.22},{"x":122,"y":0.22},{"x":215,"y":0.25},{"x":222,"y":0.26},{"x":150,"y":0.21},{"x":198,"y":0.23},{"x":202,"y":0.23},{"x":132,"y":0.19},{"x":145,"y":0.2},{"x":88,"y":0.21},{"x":98,"y":0.17},{"x":170,"y":0.14},{"x":180,"y":0.14},{"x":200,"y":0.17},{"x":215,"y":0.14},{"x":222,"y":0.14},{"x":107,"y":0.13},{"x":135,"y":0.15},{"x":165,"y":0.14},{"x":138,"y":0.12},{"x":148,"y":0.09},{"x":170,"y":0.05},{"x":150,"y":0.03},{"x":155,"y":0.02},{"x":148,"y":0.01},{"x":155,"y":0},{"x":225,"y":0.76},{"x":232,"y":0.89},{"x":250,"y":0.96},{"x":240,"y":0.98},{"x":258,"y":0.96},{"x":255,"y":0.87},{"x":275,"y":0.87},{"x":282,"y":0.88},{"x":290,"y":0.89},{"x":258,"y":0.85},{"x":268,"y":0.83},{"x":275,"y":0.82},{"x":255,"y":0.79},{"x":282,"y":0.8},{"x":288,"y":0.77},{"x":295,"y":0.77},{"x":232,"y":0.78},{"x":235,"y":0.76},{"x":243,"y":0.75},{"x":248,"y":0.75},{"x":270,"y":0.74},{"x":288,"y":0.74},{"x":230,"y":0.73},{"x":230,"y":0.69},{"x":250,"y":0.65},{"x":265,"y":0.67},{"x":270,"y":0.65},{"x":293,"y":0.69},{"x":243,"y":0.62},{"x":250,"y":0.61},{"x":235,"y":0.59},{"x":260,"y":0.59},{"x":285,"y":0.58},{"x":292,"y":0.58},{"x":230,"y":0.57},{"x":275,"y":0.57},{"x":233,"y":0.55},{"x":255,"y":0.52},{"x":282,"y":0.51},{"x":230,"y":0.53},{"x":245,"y":0.47},{"x":265,"y":0.47},{"x":275,"y":0.45},{"x":272,"y":0.46},{"x":240,"y":0.43},{"x":268,"y":0.42},{"x":285,"y":0.43},{"x":258,"y":0.39},{"x":280,"y":0.33},{"x":288,"y":0.3},{"x":293,"y":0.3},{"x":232,"y":0.31},{"x":238,"y":0.31},{"x":255,"y":0.32},{"x":272,"y":0.33},{"x":240,"y":0.27},{"x":250,"y":0.26},{"x":262,"y":0.27},{"x":275,"y":0.27},{"x":292,"y":0.28},{"x":260,"y":0.24},{"x":233,"y":0.25},{"x":240,"y":0.17},{"x":245,"y":0.19},{"x":270,"y":0.19},{"x":288,"y":0.17},{"x":255,"y":0.11},{"x":262,"y":0.11},{"x":235,"y":0.07},{"x":245,"y":0.08},{"x":235,"y":0.03},{"x":298,"y":0.2},{"x":302,"y":0.2},{"x":298,"y":0.14},{"x":302,"y":0.08},{"x":300,"y":0.03},{"x":305,"y":0.02},{"x":305,"y":0},{"x":310,"y":0.05},{"x":322,"y":0.04},{"x":300,"y":0.98},{"x":305,"y":1},{"x":343,"y":1},{"x":360,"y":0.96},{"x":375,"y":0.98},{"x":380,"y":1},{"x":405,"y":0.95},{"x":415,"y":0.99},{"x":428,"y":0.96},{"x":445,"y":0.99},{"x":462,"y":0.99},{"x":452,"y":0.94},{"x":478,"y":0.95},{"x":335,"y":0.92},{"x":382,"y":0.92},{"x":308,"y":0.89},{"x":318,"y":0.88},{"x":398,"y":0.88},{"x":445,"y":0.91},{"x":465,"y":0.89},{"x":332,"y":0.86},{"x":310,"y":0.85},{"x":355,"y":0.84},{"x":368,"y":0.84},{"x":382,"y":0.84},{"x":418,"y":0.85},{"x":432,"y":0.87},{"x":458,"y":0.87},{"x":480,"y":0.87},{"x":475,"y":0.85},{"x":312,"y":0.81},{"x":340,"y":0.81},{"x":342,"y":0.8},{"x":372,"y":0.83},{"x":393,"y":0.81},{"x":405,"y":0.83},{"x":412,"y":0.82},{"x":435,"y":0.83},{"x":390,"y":0.79},{"x":440,"y":0.78},{"x":468,"y":0.79},{"x":402,"y":0.77},{"x":327,"y":0.76},{"x":395,"y":0.74},{"x":372,"y":0.73},{"x":340,"y":0.73},{"x":325,"y":0.72},{"x":372,"y":0.71},{"x":325,"y":0.7},{"x":325,"y":0.69},{"x":445,"y":0.69},{"x":380,"y":0.67},{"x":312,"y":0.67},{"x":333,"y":0.66},{"x":320,"y":0.65},{"x":362,"y":0.66},{"x":370,"y":0.67},{"x":395,"y":0.65},{"x":428,"y":0.65},{"x":468,"y":0.66},{"x":358,"y":0.62},{"x":325,"y":0.6},{"x":412,"y":0.6},{"x":425,"y":0.59},{"x":445,"y":0.6},{"x":315,"y":0.57},{"x":398,"y":0.58},{"x":440,"y":0.55},{"x":438,"y":0.53},{"x":468,"y":0.53},{"x":480,"y":0.52},{"x":335,"y":0.52},{"x":338,"y":0.5},{"x":365,"y":0.51},{"x":382,"y":0.52},{"x":390,"y":0.52},{"x":412,"y":0.54},{"x":458,"y":0.5},{"x":452,"y":0.49},{"x":448,"y":0.49},{"x":335,"y":0.47},{"x":315,"y":0.46},{"x":318,"y":0.45},{"x":395,"y":0.47},{"x":425,"y":0.47},{"x":412,"y":0.45},{"x":350,"y":0.43},{"x":358,"y":0.42},{"x":375,"y":0.44},{"x":365,"y":0.41},{"x":405,"y":0.43},{"x":408,"y":0.41},{"x":440,"y":0.42},{"x":460,"y":0.41},{"x":478,"y":0.42},{"x":352,"y":0.4},{"x":375,"y":0.39},{"x":382,"y":0.4},{"x":465,"y":0.39},{"x":420,"y":0.39},{"x":402,"y":0.38},{"x":380,"y":0.37},{"x":310,"y":0.36},{"x":335,"y":0.37},{"x":474,"y":0.38},{"x":468,"y":0.36},{"x":310,"y":0.34},{"x":350,"y":0.34},{"x":405,"y":0.33},{"x":410,"y":0.33},{"x":420,"y":0.34},{"x":432,"y":0.33},{"x":460,"y":0.34},{"x":474,"y":0.35},{"x":478,"y":0.33},{"x":390,"y":0.32},{"x":397,"y":0.31},{"x":320,"y":0.28},{"x":365,"y":0.29},{"x":315,"y":0.27},{"x":322,"y":0.26},{"x":330,"y":0.26},{"x":355,"y":0.25},{"x":360,"y":0.26},{"x":467,"y":0.27},{"x":425,"y":0.24},{"x":445,"y":0.24},{"x":437,"y":0.21},{"x":450,"y":0.2},{"x":455,"y":0.2},{"x":335,"y":0.21},{"x":380,"y":0.2},{"x":475,"y":0.21},{"x":428,"y":0.19},{"x":345,"y":0.18},{"x":352,"y":0.17},{"x":452,"y":0.16},{"x":460,"y":0.14},{"x":475,"y":0.16},{"x":470,"y":0.14},{"x":378,"y":0.15},{"x":402,"y":0.15},{"x":405,"y":0.13},{"x":412,"y":0.13},{"x":420,"y":0.14},{"x":390,"y":0.13},{"x":368,"y":0.11},{"x":360,"y":0.11},{"x":330,"y":0.11},{"x":425,"y":0.09},{"x":428,"y":0.08},{"x":448,"y":0.08},{"x":453,"y":0.08},{"x":345,"y":0.07},{"x":352,"y":0.07},{"x":376,"y":0.06},{"x":480,"y":0.08},{"x":330,"y":0.04},{"x":365,"y":0.05},{"x":388,"y":0.05},{"x":418,"y":0.05},{"x":460,"y":0.06},{"x":448,"y":0.03},{"x":345,"y":0.03},{"x":355,"y":0.03},{"x":478,"y":0.03},{"x":385,"y":0.02},{"x":415,"y":0.02},{"x":345,"y":0.01},{"x":342,"y":0},{"x":352,"y":0.01},{"x":500,"y":1},{"x":520,"y":0.99},{"x":572,"y":0.94},{"x":610,"y":0.99},{"x":625,"y":1},{"x":655,"y":0.99},{"x":572,"y":0.91},{"x":525,"y":0.95},{"x":535,"y":0.91},{"x":540,"y":0.96},{"x":558,"y":0.92},{"x":500,"y":0.9},{"x":510,"y":0.89},{"x":530,"y":0.9},{"x":550,"y":0.88},{"x":575,"y":0.92},{"x":578,"y":0.89},{"x":598,"y":0.89},{"x":500,"y":0.85},{"x":495,"y":0.86},{"x":558,"y":0.85},{"x":612,"y":0.94},{"x":640,"y":0.96},{"x":625,"y":0.87},{"x":625,"y":0.84},{"x":645,"y":0.91},{"x":650,"y":0.84},{"x":478,"y":0.87},{"x":503,"y":0.83},{"x":545,"y":0.83},{"x":540,"y":0.82},{"x":590,"y":0.82},{"x":552,"y":0.81},{"x":570,"y":0.81},{"x":585,"y":0.79},{"x":518,"y":0.79},{"x":485,"y":0.76},{"x":495,"y":0.74},{"x":512,"y":0.76},{"x":600,"y":0.77},{"x":612,"y":0.77},{"x":625,"y":0.77},{"x":640,"y":0.75},{"x":645,"y":0.77},{"x":550,"y":0.75},{"x":558,"y":0.74},{"x":510,"y":0.72},{"x":560,"y":0.7},{"x":605,"y":0.69},{"x":630,"y":0.7},{"x":495,"y":0.71},{"x":510,"y":0.69},{"x":505,"y":0.68},{"x":545,"y":0.67},{"x":580,"y":0.68},{"x":500,"y":0.67},{"x":497,"y":0.66},{"x":540,"y":0.67},{"x":555,"y":0.65},{"x":562,"y":0.66},{"x":605,"y":0.64},{"x":638,"y":0.66},{"x":610,"y":0.62},{"x":520,"y":0.62},{"x":515,"y":0.6},{"x":550,"y":0.64},{"x":575,"y":0.63},{"x":595,"y":0.6},{"x":645,"y":0.63},{"x":490,"y":0.6},{"x":605,"y":0.58},{"x":620,"y":0.58},{"x":645,"y":0.58},{"x":530,"y":0.56},{"x":565,"y":0.56},{"x":590,"y":0.55},{"x":645,"y":0.55},{"x":510,"y":0.53},{"x":580,"y":0.52},{"x":585,"y":0.52},{"x":570,"y":0.52},{"x":645,"y":0.53},{"x":530,"y":0.48},{"x":553,"y":0.48},{"x":520,"y":0.46},{"x":568,"y":0.49},{"x":578,"y":0.49},{"x":595,"y":0.48},{"x":620,"y":0.49},{"x":608,"y":0.46},{"x":650,"y":0.48},{"x":535,"y":0.45},{"x":540,"y":0.44},{"x":500,"y":0.44},{"x":590,"y":0.44},{"x":490,"y":0.41},{"x":490,"y":0.4},{"x":505,"y":0.4},{"x":570,"y":0.42},{"x":590,"y":0.41},{"x":612,"y":0.4},{"x":625,"y":0.4},{"x":633,"y":0.38},{"x":650,"y":0.42},{"x":650,"y":0.4},{"x":535,"y":0.39},{"x":525,"y":0.37},{"x":520,"y":0.37},{"x":560,"y":0.38},{"x":565,"y":0.37},{"x":555,"y":0.36},{"x":500,"y":0.36},{"x":510,"y":0.36},{"x":540,"y":0.35},{"x":622,"y":0.34},{"x":610,"y":0.31},{"x":548,"y":0.3},{"x":490,"y":0.28},{"x":500,"y":0.27},{"x":510,"y":0.27},{"x":540,"y":0.27},{"x":550,"y":0.27},{"x":578,"y":0.27},{"x":595,"y":0.28},{"x":632,"y":0.27},{"x":595,"y":0.26},{"x":570,"y":0.25},{"x":648,"y":0.24},{"x":530,"y":0.23},{"x":565,"y":0.22},{"x":590,"y":0.22},{"x":640,"y":0.22},{"x":575,"y":0.21},{"x":470,"y":0.21},{"x":530,"y":0.19},{"x":520,"y":0.19},{"x":570,"y":0.2},{"x":605,"y":0.19},{"x":615,"y":0.2},{"x":645,"y":0.19},{"x":565,"y":0.17},{"x":610,"y":0.16},{"x":645,"y":0.17},{"x":505,"y":0.14},{"x":520,"y":0.15},{"x":610,"y":0.12},{"x":540,"y":0.11},{"x":495,"y":0.11},{"x":630,"y":0.11},{"x":622,"y":0.1},{"x":600,"y":0.1},{"x":590,"y":0.09},{"x":525,"y":0.07},{"x":640,"y":0.1},{"x":505,"y":0.06},{"x":495,"y":0.04},{"x":595,"y":0.04},{"x":615,"y":0.05},{"x":625,"y":0.04},{"x":650,"y":0.04},{"x":505,"y":0.02},{"x":518,"y":0.03},{"x":595,"y":0.02},{"x":613,"y":0.02},{"x":625,"y":0.02},{"x":625,"y":0},{"x":500,"y":0},{"x":660,"y":0.9},{"x":672,"y":0.93},{"x":680,"y":0.91},{"x":692,"y":0.91},{"x":708,"y":0.89},{"x":718,"y":0.88},{"x":725,"y":0.89},{"x":735,"y":0.93},{"x":750,"y":0.96},{"x":760,"y":0.96},{"x":772,"y":0.96},{"x":778,"y":0.95},{"x":785,"y":0.95},{"x":745,"y":0.93},{"x":770,"y":0.91},{"x":785,"y":0.88},{"x":805,"y":0.91},{"x":825,"y":0.88},{"x":815,"y":0.99},{"x":830,"y":0.97},{"x":838,"y":0.99},{"x":845,"y":0.95},{"x":865,"y":0.97},{"x":880,"y":0.97},{"x":895,"y":0.97},{"x":675,"y":0.85},{"x":680,"y":0.85},{"x":725,"y":0.83},{"x":730,"y":0.83},{"x":790,"y":0.83},{"x":805,"y":0.84},{"x":815,"y":0.84},{"x":830,"y":0.84},{"x":850,"y":0.88},{"x":860,"y":0.9},{"x":860,"y":0.85},{"x":870,"y":0.82},{"x":695,"y":0.82},{"x":700,"y":0.8},{"x":705,"y":0.79},{"x":710,"y":0.81},{"x":745,"y":0.8},{"x":798,"y":0.82},{"x":665,"y":0.78},{"x":670,"y":0.77},{"x":750,"y":0.76},{"x":772,"y":0.75},{"x":790,"y":0.78},{"x":845,"y":0.79},{"x":865,"y":0.78},{"x":830,"y":0.78},{"x":725,"y":0.75},{"x":712,"y":0.73},{"x":720,"y":0.74},{"x":795,"y":0.75},{"x":825,"y":0.78},{"x":852,"y":0.74},{"x":880,"y":0.76},{"x":885,"y":0.77},{"x":790,"y":0.73},{"x":720,"y":0.71},{"x":725,"y":0.72},{"x":708,"y":0.71},{"x":725,"y":0.7},{"x":745,"y":0.7},{"x":755,"y":0.7},{"x":790,"y":0.69},{"x":850,"y":0.69},{"x":865,"y":0.69},{"x":878,"y":0.7},{"x":700,"y":0.68},{"x":710,"y":0.68},{"x":720,"y":0.67},{"x":735,"y":0.67},{"x":745,"y":0.68},{"x":795,"y":0.67},{"x":800,"y":0.66},{"x":860,"y":0.67},{"x":855,"y":0.66},{"x":660,"y":0.66},{"x":670,"y":0.66},{"x":735,"y":0.64},{"x":725,"y":0.64},{"x":825,"y":0.65},{"x":850,"y":0.65},{"x":875,"y":0.64},{"x":895,"y":0.65},{"x":800,"y":0.64},{"x":683,"y":0.63},{"x":660,"y":0.64},{"x":760,"y":0.62},{"x":775,"y":0.62},{"x":770,"y":0.61},{"x":755,"y":0.61},{"x":820,"y":0.61},{"x":670,"y":0.6},{"x":680,"y":0.6},{"x":655,"y":0.59},{"x":785,"y":0.59},{"x":885,"y":0.59},{"x":890,"y":0.58},{"x":695,"y":0.57},{"x":700,"y":0.57},{"x":725,"y":0.57},{"x":795,"y":0.57},{"x":805,"y":0.57},{"x":815,"y":0.57},{"x":825,"y":0.57},{"x":670,"y":0.58},{"x":830,"y":0.55},{"x":790,"y":0.54},{"x":860,"y":0.55},{"x":805,"y":0.53},{"x":860,"y":0.54},{"x":700,"y":0.53},{"x":685,"y":0.51},{"x":718,"y":0.51},{"x":735,"y":0.5},{"x":745,"y":0.51},{"x":768,"y":0.51},{"x":870,"y":0.5},{"x":885,"y":0.5},{"x":700,"y":0.49},{"x":710,"y":0.49},{"x":832,"y":0.48},{"x":870,"y":0.47},{"x":650,"y":0.48},{"x":675,"y":0.46},{"x":695,"y":0.46},{"x":755,"y":0.46},{"x":765,"y":0.45},{"x":780,"y":0.45},{"x":795,"y":0.45},{"x":730,"y":0.43},{"x":855,"y":0.44},{"x":885,"y":0.46},{"x":895,"y":0.46},{"x":840,"y":0.43},{"x":870,"y":0.42},{"x":735,"y":0.41},{"x":785,"y":0.42},{"x":815,"y":0.42},{"x":810,"y":0.4},{"x":818,"y":0.4},{"x":830,"y":0.4},{"x":905,"y":0.43},{"x":665,"y":0.38},{"x":650,"y":0.4},{"x":685,"y":0.39},{"x":860,"y":0.39},{"x":835,"y":0.38},{"x":895,"y":0.37},{"x":855,"y":0.36},{"x":885,"y":0.37},{"x":715,"y":0.34},{"x":730,"y":0.34},{"x":777,"y":0.34},{"x":780,"y":0.35},{"x":775,"y":0.34},{"x":815,"y":0.34},{"x":830,"y":0.31},{"x":905,"y":0.33},{"x":840,"y":0.33},{"x":888,"y":0.3},{"x":910,"y":0.3},{"x":920,"y":0.34},{"x":770,"y":0.3},{"x":785,"y":0.29},{"x":855,"y":0.3},{"x":650,"y":0.28},{"x":675,"y":0.27},{"x":695,"y":0.27},{"x":700,"y":0.27},{"x":722,"y":0.29},{"x":738,"y":0.27},{"x":760,"y":0.28},{"x":785,"y":0.27},{"x":800,"y":0.27},{"x":845,"y":0.27},{"x":858,"y":0.27},{"x":865,"y":0.28},{"x":905,"y":0.29},{"x":790,"y":0.26},{"x":820,"y":0.25},{"x":840,"y":0.27},{"x":815,"y":0.23},{"x":660,"y":0.24},{"x":665,"y":0.24},{"x":680,"y":0.25},{"x":700,"y":0.24},{"x":720,"y":0.2},{"x":730,"y":0.23},{"x":755,"y":0.25},{"x":805,"y":0.23},{"x":870,"y":0.23},{"x":685,"y":0.22},{"x":692,"y":0.2},{"x":775,"y":0.22},{"x":885,"y":0.19},{"x":900,"y":0.19},{"x":645,"y":0.2},{"x":670,"y":0.19},{"x":740,"y":0.2},{"x":750,"y":0.18},{"x":760,"y":0.18},{"x":805,"y":0.17},{"x":865,"y":0.19},{"x":875,"y":0.17},{"x":890,"y":0.15},{"x":840,"y":0.15},{"x":840,"y":0.13},{"x":880,"y":0.12},{"x":770,"y":0.14},{"x":775,"y":0.13},{"x":745,"y":0.11},{"x":755,"y":0.11},{"x":790,"y":0.11},{"x":770,"y":0.1},{"x":655,"y":0.11},{"x":665,"y":0.1},{"x":675,"y":0.1},{"x":690,"y":0.08},{"x":740,"y":0.08},{"x":760,"y":0.07},{"x":815,"y":0.1},{"x":820,"y":0.09},{"x":805,"y":0.07},{"x":865,"y":0.08},{"x":870,"y":0.07},{"x":885,"y":0.07},{"x":840,"y":0.06},{"x":650,"y":0.04},{"x":660,"y":0.05},{"x":670,"y":0.04},{"x":690,"y":0.03},{"x":740,"y":0.03},{"x":805,"y":0.03},{"x":818,"y":0.04},{"x":878,"y":0.05},{"x":815,"y":0.02},{"x":838,"y":0.02},{"x":905,"y":0.1},{"x":925,"y":0.13},{"x":942,"y":0.13},{"x":950,"y":0.15},{"x":930,"y":0.12},{"x":935,"y":0.05},{"x":945,"y":0.05},{"x":925,"y":0.05},{"x":990,"y":0.08},{"x":965,"y":0.08},{"x":990,"y":0.07},{"x":985,"y":0.03},{"x":920,"y":0.02},{"x":990,"y":0.16},{"x":955,"y":0.2},{"x":975,"y":0.21},{"x":970,"y":0.22},{"x":995,"y":0.21},{"x":980,"y":0.21},{"x":965,"y":0.21},{"x":955,"y":0.19},{"x":895,"y":0.2},{"x":960,"y":0.25},{"x":915,"y":0.32},{"x":932,"y":0.32},{"x":925,"y":0.31},{"x":945,"y":0.32},{"x":985,"y":0.31},{"x":940,"y":0.3},{"x":955,"y":0.37},{"x":980,"y":0.37},{"x":1000,"y":0.35},{"x":985,"y":0.35},{"x":925,"y":0.4},{"x":945,"y":0.45},{"x":935,"y":0.45},{"x":958,"y":0.42},{"x":985,"y":0.43},{"x":960,"y":0.46},{"x":995,"y":0.41},{"x":965,"y":0.42},{"x":920,"y":0.45},{"x":910,"y":0.43},{"x":913,"y":0.49},{"x":945,"y":0.5},{"x":955,"y":0.51},{"x":955,"y":0.48},{"x":970,"y":0.49},{"x":920,"y":0.51},{"x":925,"y":0.53},{"x":945,"y":0.52},{"x":955,"y":0.52},{"x":975,"y":0.52},{"x":985,"y":0.54},{"x":995,"y":0.53},{"x":970,"y":0.55},{"x":920,"y":0.55},{"x":935,"y":0.55},{"x":975,"y":0.57},{"x":990,"y":0.6},{"x":955,"y":0.6},{"x":965,"y":0.61},{"x":995,"y":0.63},{"x":1000,"y":0.66},{"x":958,"y":0.64},{"x":905,"y":0.65},{"x":910,"y":0.64},{"x":930,"y":0.67},{"x":915,"y":0.68},{"x":935,"y":0.69},{"x":905,"y":0.73},{"x":910,"y":0.74},{"x":930,"y":0.72},{"x":935,"y":0.7},{"x":975,"y":0.74},{"x":950,"y":0.76},{"x":925,"y":0.77},{"x":935,"y":0.79},{"x":945,"y":0.78},{"x":965,"y":0.78},{"x":985,"y":0.78},{"x":950,"y":0.8},{"x":955,"y":0.8},{"x":915,"y":0.8},{"x":925,"y":0.84},{"x":905,"y":0.83},{"x":960,"y":0.81},{"x":978,"y":0.83},{"x":965,"y":0.84},{"x":920,"y":0.87},{"x":905,"y":0.87},{"x":915,"y":0.88},{"x":985,"y":0.88},{"x":1000,"y":0.88},{"x":1000,"y":0.86},{"x":925,"y":0.93},{"x":955,"y":0.94},{"x":960,"y":0.9},{"x":975,"y":0.91},{"x":978,"y":0.92},{"x":995,"y":0.92},{"x":940,"y":0.98},{"x":935,"y":0.98},{"x":960,"y":0.97}],
"sf":[{"x":1,"y":0.87},{"x":1,"y":0.85},{"x":4,"y":0.91},{"x":7,"y":0.95},{"x":9,"y":0.96},{"x":11,"y":0.98},{"x":40,"y":0.99},{"x":42,"y":0.98},{"x":57,"y":0.99},{"x":37,"y":0.95},{"x":51,"y":0.94},{"x":59,"y":0.92},{"x":36,"y":0.9},{"x":52,"y":0.89},{"x":41,"y":0.87},{"x":47,"y":0.87},{"x":60,"y":0.88},{"x":37,"y":0.85},{"x":58,"y":0.85},{"x":45,"y":0.83},{"x":14,"y":0.767},{"x":17,"y":0.77},{"x":19,"y":0.775},{"x":22,"y":0.785},{"x":25,"y":0.79},{"x":27,"y":0.8},{"x":28,"y":0.81},{"x":30,"y":0.825},{"x":33,"y":0.84},{"x":13,"y":0.74},{"x":15,"y":0.735},{"x":18,"y":0.725},{"x":20,"y":0.715},{"x":22,"y":0.705},{"x":24,"y":0.695},{"x":26,"y":0.68},{"x":27,"y":0.66},{"x":31,"y":0.64},{"x":33,"y":0.6},{"x":42,"y":0.66},{"x":47,"y":0.64},{"x":45,"y":0.61},{"x":50,"y":0.6},{"x":60,"y":0.58},{"x":37,"y":0.55},{"x":50,"y":0.56},{"x":62,"y":0.52},{"x":38,"y":0.47},{"x":52,"y":0.48},{"x":5,"y":0.54},{"x":1,"y":0.63},{"x":7,"y":0.59},{"x":7,"y":0.45},{"x":42,"y":0.4},{"x":62,"y":0.41},{"x":35,"y":0.29},{"x":55,"y":0.32},{"x":9,"y":0.26},{"x":8,"y":0.23},{"x":60,"y":0.17},{"x":65,"y":0.14},{"x":13,"y":0.13},{"x":46,"y":0.11},{"x":42,"y":0.05},{"x":58,"y":0.02},{"x":66,"y":0.77},{"x":68,"y":0.78},{"x":71,"y":0.79},{"x":73,"y":0.8},{"x":75,"y":0.82},{"x":78,"y":0.84},{"x":82,"y":0.86},{"x":83,"y":0.88},{"x":85,"y":0.91},{"x":85,"y":0.98},{"x":70,"y":0.72},{"x":72,"y":0.71},{"x":74,"y":0.695},{"x":76,"y":0.68},{"x":77,"y":0.66},{"x":78,"y":0.65},{"x":79,"y":0.625},{"x":85,"y":0.585},{"x":84,"y":0.525},{"x":87,"y":0.41},{"x":88,"y":0.15},{"x":102,"y":0.41},{"x":102,"y":0.145},{"x":92,"y":0.68},{"x":93,"y":0.655},{"x":100,"y":0.625},{"x":93,"y":0.625},{"x":103,"y":0.585},{"x":102,"y":0.525},{"x":102,"y":0.975},{"x":102,"y":0.915},{"x":88,"y":0.915},{"x":100,"y":0.875},{"x":86,"y":0.875},{"x":92,"y":0.855},{"x":92,"y":0.835},{"x":100,"y":0.85},{"x":90,"y":0.815},{"x":98,"y":0.83},{"x":106,"y":0.8},{"x":104,"y":0.79},{"x":109,"y":0.78},{"x":112,"y":0.775},{"x":115,"y":0.79},{"x":108,"y":0.71},{"x":107,"y":0.7},{"x":110,"y":0.69},{"x":111,"y":0.67},{"x":113,"y":0.65},{"x":115,"y":0.63},{"x":118,"y":0.6},{"x":120,"y":0.545},{"x":120,"y":0.455},{"x":122,"y":0.26},{"x":125,"y":0.145},{"x":124,"y":0.975},{"x":120,"y":0.95},{"x":122,"y":0.9},{"x":110,"y":0.85},{"x":116,"y":0.85},{"x":116,"y":0.82},{"x":124,"y":0.88},{"x":120,"y":0.87},{"x":126,"y":0.78},{"x":128,"y":0.785},{"x":131,"y":0.8},{"x":133,"y":0.815},{"x":135,"y":0.83},{"x":137,"y":0.85},{"x":140,"y":0.88},{"x":143,"y":0.92},{"x":140,"y":0.86},{"x":145,"y":0.98},{"x":125,"y":0.71},{"x":126,"y":0.7},{"x":129,"y":0.685},{"x":131,"y":0.665},{"x":133,"y":0.645},{"x":135,"y":0.62},{"x":145,"y":0.65},{"x":140,"y":0.515},{"x":146,"y":0.39},{"x":145,"y":0.1},{"x":152,"y":0.915},{"x":148,"y":0.875},{"x":150,"y":0.855},{"x":155,"y":0.855},{"x":152,"y":0.82},{"x":148,"y":0.79},{"x":152,"y":0.8},{"x":155,"y":0.815},{"x":158,"y":0.84},{"x":153,"y":0.7},{"x":155,"y":0.68},{"x":158,"y":0.65},{"x":158,"y":0.625},{"x":160,"y":0.7},{"x":160,"y":0.67},{"x":148,"y":0.625},{"x":150,"y":0.585},{"x":165,"y":0.62},{"x":160,"y":0.58},{"x":172,"y":0.63},{"x":178,"y":0.6},{"x":170,"y":0.51},{"x":172,"y":0.525},{"x":152,"y":0.525},{"x":155,"y":0.41},{"x":178,"y":0.415},{"x":170,"y":0.38},{"x":172,"y":0.08},{"x":176,"y":0.16},{"x":185,"y":0.445},{"x":180,"y":0.54},{"x":183,"y":0.98},{"x":172,"y":0.985},{"x":172,"y":0.92},{"x":175,"y":0.97},{"x":180,"y":0.91},{"x":186,"y":0.97},{"x":186,"y":0.95},{"x":188,"y":0.9},{"x":172,"y":0.88},{"x":182,"y":0.87},{"x":166,"y":0.88},{"x":163,"y":0.855},{"x":165,"y":0.84},{"x":178,"y":0.85},{"x":175,"y":0.83},{"x":190,"y":0.85},{"x":193,"y":0.84},{"x":190,"y":0.81},{"x":195,"y":0.85},{"x":191,"y":0.67},{"x":192,"y":0.645},{"x":185,"y":0.665},{"x":187,"y":0.255},{"x":187,"y":0.23},{"x":192,"y":0.16},{"x":200,"y":0.1},{"x":205,"y":0.07},{"x":205,"y":0.04},{"x":205,"y":0.28},{"x":208,"y":0.31},{"x":200,"y":0.35},{"x":213,"y":0.33},{"x":212,"y":0.22},{"x":214,"y":0.17},{"x":205,"y":0.99},{"x":210,"y":0.99},{"x":215,"y":1},{"x":198,"y":0.93},{"x":205,"y":0.94},{"x":213,"y":0.93},{"x":198,"y":0.89},{"x":198,"y":0.86},{"x":197,"y":0.84},{"x":198,"y":0.61},{"x":198,"y":0.57},{"x":197,"y":0.5},{"x":208,"y":0.48},{"x":222,"y":0.98},{"x":220,"y":0.915},{"x":222,"y":0.88},{"x":222,"y":0.855},{"x":222,"y":0.585},{"x":222,"y":0.525},{"x":222,"y":0.41},{"x":225,"y":0.145},{"x":215,"y":0.02},{"x":210,"y":0.03},{"x":220,"y":0.17},{"x":226,"y":0.78},{"x":228,"y":0.785},{"x":231,"y":0.8},{"x":233,"y":0.815},{"x":235,"y":0.83},{"x":237,"y":0.85},{"x":226,"y":0.715},{"x":228,"y":0.705},{"x":230,"y":0.69},{"x":232,"y":0.675},{"x":233,"y":0.66},{"x":235,"y":0.635},{"x":240,"y":0.6},{"x":243,"y":0.59},{"x":243,"y":0.55},{"x":247,"y":0.53},{"x":243,"y":0.46},{"x":250,"y":0.42},{"x":248,"y":0.27},{"x":250,"y":0.09},{"x":255,"y":0.175},{"x":242,"y":0.89},{"x":245,"y":0.905},{"x":250,"y":0.915},{"x":258,"y":0.915},{"x":238,"y":0.87},{"x":245,"y":0.87},{"x":243,"y":0.95},{"x":247,"y":0.98},{"x":255,"y":0.97},{"x":252,"y":0.88},{"x":258,"y":0.86},{"x":260,"y":0.88},{"x":263,"y":0.925},{"x":265,"y":0.94},{"x":270,"y":0.92},{"x":268,"y":0.99},{"x":272,"y":0.97},{"x":263,"y":0.895},{"x":258,"y":0.57},{"x":257,"y":0.505},{"x":263,"y":0.375},{"x":268,"y":0.48},{"x":265,"y":0.07},{"x":268,"y":0.31},{"x":270,"y":0.2},{"x":275,"y":0.205},{"x":278,"y":0.44},{"x":270,"y":0.025},{"x":277,"y":0.92},{"x":280,"y":0.85},{"x":283,"y":0.84},{"x":287,"y":0.92},{"x":280,"y":0.88},{"x":288,"y":0.875},{"x":285,"y":0.985},{"x":300,"y":0.98},{"x":295,"y":0.95},{"x":290,"y":0.83},{"x":287,"y":0.86},{"x":280,"y":0.65},{"x":283,"y":0.625},{"x":287,"y":0.66},{"x":290,"y":0.64},{"x":283,"y":0.58},{"x":295,"y":0.6},{"x":285,"y":0.515},{"x":295,"y":0.55},{"x":279,"y":0.395},{"x":287,"y":0.395},{"x":280,"y":0.105},{"x":287,"y":0.11},{"x":300,"y":0.46},{"x":300,"y":0.26},{"x":303,"y":0.125},{"x":303,"y":0.78},{"x":306,"y":0.785},{"x":308,"y":0.8},{"x":310,"y":0.82},{"x":313,"y":0.84},{"x":315,"y":0.86},{"x":300,"y":0.9},{"x":323,"y":0.885},{"x":317,"y":0.925},{"x":302,"y":0.725},{"x":304,"y":0.715},{"x":306,"y":0.7},{"x":307,"y":0.68},{"x":308,"y":0.665},{"x":315,"y":0.61},{"x":320,"y":0.57},{"x":320,"y":0.63},{"x":320,"y":0.495},{"x":325,"y":0.98},{"x":323,"y":1},{"x":326,"y":0.98},{"x":327,"y":0.35},{"x":327,"y":0.26},{"x":328,"y":0.125},{"x":324,"y":0.035},{"x":328,"y":0.78},{"x":331,"y":0.8},{"x":333,"y":0.815},{"x":335,"y":0.83},{"x":337,"y":0.85},{"x":325,"y":0.725},{"x":328,"y":0.715},{"x":331,"y":0.7},{"x":333,"y":0.68},{"x":335,"y":0.665},{"x":340,"y":0.63},{"x":342,"y":0.59},{"x":340,"y":0.67},{"x":345,"y":0.53},{"x":348,"y":0.52},{"x":350,"y":0.425},{"x":355,"y":0.405},{"x":350,"y":0.185},{"x":355,"y":0.13},{"x":340,"y":0.875},{"x":345,"y":0.875},{"x":340,"y":0.97},{"x":352,"y":0.97},{"x":355,"y":0.99},{"x":345,"y":0.91},{"x":350,"y":0.92},{"x":355,"y":0.88},{"x":358,"y":0.76},{"x":360,"y":0.75},{"x":356,"y":0.755},{"x":358,"y":0.74},{"x":361,"y":0.765},{"x":363,"y":0.775},{"x":366,"y":0.785},{"x":368,"y":0.795},{"x":371,"y":0.81},{"x":373,"y":0.82},{"x":377,"y":0.84},{"x":360,"y":0.735},{"x":363,"y":0.73},{"x":366,"y":0.72},{"x":369,"y":0.71},{"x":371,"y":0.7},{"x":372,"y":0.69},{"x":375,"y":0.67},{"x":377,"y":0.65},{"x":380,"y":0.615},{"x":380,"y":0.57},{"x":382,"y":0.86},{"x":385,"y":0.875},{"x":385,"y":0.925},{"x":390,"y":0.985},{"x":393,"y":0.39},{"x":388,"y":0.505},{"x":390,"y":0.365},{"x":395,"y":0.615},{"x":395,"y":0.57},{"x":395,"y":0.85},{"x":395,"y":0.1},{"x":390,"y":0.05},{"x":400,"y":0.355},{"x":405,"y":0.315},{"x":405,"y":0.19},{"x":402,"y":0.5},{"x":402,"y":0.92},{"x":402,"y":0.88},{"x":400,"y":0.995},{"x":405,"y":0.99},{"x":405,"y":0.04},{"x":405,"y":0.02},{"x":410,"y":0.03},{"x":412,"y":0.35},{"x":412,"y":0.49},{"x":412,"y":0.99},{"x":412,"y":0.885},{"x":412,"y":0.925},{"x":415,"y":0.25},{"x":415,"y":0.17},{"x":418,"y":0.85},{"x":420,"y":0.59},{"x":417,"y":0.97},{"x":425,"y":0.96},{"x":423,"y":0.87},{"x":425,"y":0.91},{"x":425,"y":0.53},{"x":425,"y":0.435},{"x":427,"y":0.43},{"x":430,"y":0.425},{"x":425,"y":0.2},{"x":430,"y":0.2},{"x":430,"y":0.965},{"x":433,"y":0.91},{"x":430,"y":0.18},{"x":435,"y":0.965},{"x":435,"y":0.52},{"x":435,"y":0.42},{"x":437,"y":0.875},{"x":440,"y":0.905},{"x":440,"y":0.175},{"x":443,"y":0.885},{"x":443,"y":0.975},{"x":445,"y":0.92},{"x":447,"y":0.855},{"x":445,"y":0.58},{"x":445,"y":0.515},{"x":445,"y":0.39},{"x":447,"y":0.105},{"x":447,"y":0.645},{"x":447,"y":0.61},{"x":450,"y":0.98},{"x":452,"y":0.57},{"x":452,"y":0.88},{"x":452,"y":0.925},{"x":452,"y":0.84},{"x":452,"y":0.5},{"x":455,"y":0.045},{"x":458,"y":0.035},{"x":457,"y":0.36},{"x":458,"y":0.35},{"x":460,"y":0.995},{"x":462,"y":0.99},{"x":460,"y":0.855},{"x":465,"y":0.885},{"x":463,"y":0.09},{"x":462,"y":0.275},{"x":467,"y":0.98},{"x":466,"y":0.58},{"x":466,"y":0.515},{"x":468,"y":0.395},{"x":470,"y":0.11},{"x":472,"y":0.92},{"x":470,"y":0.675},{"x":472,"y":0.65},{"x":472,"y":0.62},{"x":473,"y":0.82},{"x":473,"y":0.84},{"x":472,"y":0.855},{"x":478,"y":0.88},{"x":478,"y":0.58},{"x":478,"y":0.52},{"x":480,"y":0.405},{"x":482,"y":0.98},{"x":480,"y":0.915},{"x":483,"y":0.135},{"x":486,"y":0.75},{"x":489,"y":0.75},{"x":492,"y":0.75},{"x":495,"y":0.75},{"x":498,"y":0.752},{"x":500,"y":0.755},{"x":503,"y":0.76},{"x":505,"y":0.765},{"x":507,"y":0.77},{"x":510,"y":0.775},{"x":512,"y":0.785},{"x":514,"y":0.795},{"x":516,"y":0.81},{"x":518,"y":0.82},{"x":521,"y":0.84},{"x":523,"y":0.86},{"x":525,"y":0.885},{"x":500,"y":0.745},{"x":503,"y":0.74},{"x":505,"y":0.735},{"x":507,"y":0.73},{"x":510,"y":0.72},{"x":512,"y":0.71},{"x":514,"y":0.7},{"x":516,"y":0.69},{"x":518,"y":0.67},{"x":520,"y":0.645},{"x":522,"y":0.615},{"x":527,"y":0.57},{"x":530,"y":0.5},{"x":530,"y":0.93},{"x":530,"y":0.355},{"x":532,"y":0.99},{"x":535,"y":0.885},{"x":535,"y":0.34},{"x":535,"y":0.31},{"x":538,"y":0.93},{"x":535,"y":0.04},{"x":538,"y":0.02},{"x":540,"y":0.99},{"x":540,"y":0.93},{"x":540,"y":0.49},{"x":540,"y":0.325},{"x":542,"y":0.22},{"x":540,"y":0.19},{"x":543,"y":0.025},{"x":548,"y":0.86},{"x":550,"y":0.84},{"x":548,"y":0.99},{"x":553,"y":0.165},{"x":550,"y":0.615},{"x":550,"y":0.58},{"x":550,"y":0.51},{"x":552,"y":0.02},{"x":555,"y":0.92},{"x":557,"y":0.88},{"x":560,"y":0.985},{"x":560,"y":0.58},{"x":558,"y":0.385},{"x":558,"y":0.085},{"x":563,"y":0.875},{"x":565,"y":0.915},{"x":565,"y":0.095},{"x":565,"y":0.985},{"x":565,"y":0.51},{"x":565,"y":0.385},{"x":568,"y":0.595},{"x":570,"y":0.9},{"x":572,"y":0.545},{"x":575,"y":0.45},{"x":577,"y":0.96},{"x":578,"y":0.945},{"x":576,"y":0.86},{"x":572,"y":0.24},{"x":575,"y":0.225},{"x":580,"y":0.3},{"x":583,"y":0.295},{"x":583,"y":0.99},{"x":585,"y":0.985},{"x":585,"y":0.92},{"x":585,"y":0.885},{"x":583,"y":0.04},{"x":587,"y":0.025},{"x":590,"y":0.93},{"x":590,"y":0.33},{"x":590,"y":0.19},{"x":592,"y":0.495},{"x":590,"y":0.99},{"x":592,"y":0.35},{"x":592,"y":0.03},{"x":595,"y":0.9},{"x":597,"y":0.25},{"x":597,"y":0.185},{"x":600,"y":0.965},{"x":602,"y":0.525},{"x":602,"y":0.92},{"x":603,"y":0.88},{"x":605,"y":0.985},{"x":605,"y":0.41},{"x":605,"y":0.14},{"x":606,"y":0.765},{"x":608,"y":0.77},{"x":611,"y":0.78},{"x":613,"y":0.795},{"x":616,"y":0.81},{"x":617,"y":0.82},{"x":620,"y":0.845},{"x":625,"y":0.865},{"x":605,"y":0.74},{"x":607,"y":0.735},{"x":610,"y":0.725},{"x":612,"y":0.71},{"x":613,"y":0.7},{"x":615,"y":0.68},{"x":618,"y":0.66},{"x":620,"y":0.64},{"x":623,"y":0.6},{"x":628,"y":0.55},{"x":632,"y":0.53},{"x":630,"y":0.465},{"x":635,"y":0.43},{"x":630,"y":0.275},{"x":635,"y":0.08},{"x":630,"y":0.95},{"x":632,"y":0.985},{"x":628,"y":0.895},{"x":635,"y":0.965},{"x":635,"y":0.945},{"x":635,"y":0.905},{"x":638,"y":0.48},{"x":638,"y":0.19},{"x":642,"y":0.995},{"x":642,"y":0.895},{"x":645,"y":0.95},{"x":640,"y":0.31},{"x":645,"y":0.195},{"x":645,"y":0.025},{"x":650,"y":0.455},{"x":650,"y":0.97},{"x":652,"y":0.25},{"x":653,"y":0.175},{"x":653,"y":0.885},{"x":650,"y":0.855},{"x":657,"y":0.575},{"x":657,"y":0.505},{"x":660,"y":0.99},{"x":660,"y":0.06},{"x":662,"y":0.925},{"x":662,"y":0.97},{"x":660,"y":0.37},{"x":665,"y":0.435},{"x":667,"y":0.2},{"x":668,"y":0.91},{"x":670,"y":0.415},{"x":672,"y":0.805},{"x":672,"y":0.825},{"x":672,"y":0.85},{"x":672,"y":0.155},{"x":675,"y":0.675},{"x":675,"y":0.65},{"x":678,"y":0.625},{"x":680,"y":0.585},{"x":680,"y":0.525},{"x":680,"y":0.415},{"x":680,"y":0.875},{"x":680,"y":0.915},{"x":680,"y":0.835},{"x":680,"y":0.97},{"x":687,"y":0.165},{"x":688,"y":0.625},{"x":688,"y":0.585},{"x":688,"y":0.52},{"x":688,"y":0.875},{"x":688,"y":0.855},{"x":690,"y":0.915},{"x":693,"y":0.41},{"x":693,"y":0.975},{"x":693,"y":0.145},{"x":690,"y":0.78},{"x":693,"y":0.785},{"x":696,"y":0.8},{"x":698,"y":0.815},{"x":700,"y":0.83},{"x":702,"y":0.845},{"x":705,"y":0.855},{"x":692,"y":0.715},{"x":694,"y":0.7},{"x":695,"y":0.68},{"x":698,"y":0.655},{"x":700,"y":0.625},{"x":702,"y":0.62},{"x":703,"y":0.59},{"x":705,"y":0.525},{"x":705,"y":0.875},{"x":705,"y":0.915},{"x":707,"y":0.975},{"x":707,"y":0.415},{"x":710,"y":0.16},{"x":715,"y":0.65},{"x":715,"y":0.615},{"x":715,"y":0.84},{"x":718,"y":0.51},{"x":718,"y":0.58},{"x":718,"y":0.925},{"x":718,"y":0.885},{"x":720,"y":0.38},{"x":720,"y":0.415},{"x":722,"y":0.08},{"x":725,"y":0.16},{"x":725,"y":0.975},{"x":725,"y":0.99},{"x":727,"y":0.845},{"x":727,"y":0.87},{"x":727,"y":0.915},{"x":725,"y":0.525},{"x":727,"y":0.635},{"x":735,"y":0.95},{"x":737,"y":0.6},{"x":738,"y":0.895},{"x":733,"y":0.55},{"x":735,"y":0.46},{"x":738,"y":0.27},{"x":740,"y":0.095},{"x":743,"y":0.87},{"x":745,"y":0.885},{"x":747,"y":0.935},{"x":750,"y":0.33},{"x":750,"y":0.565},{"x":750,"y":0.49},{"x":752,"y":0.99},{"x":753,"y":0.865},{"x":755,"y":0.885},{"x":753,"y":0.02},{"x":755,"y":0.175},{"x":758,"y":0.565},{"x":758,"y":0.49},{"x":760,"y":0.99},{"x":760,"y":0.93},{"x":760,"y":0.34},{"x":763,"y":0.205},{"x":763,"y":0.025},{"x":767,"y":0.98},{"x":767,"y":0.865},{"x":767,"y":0.545},{"x":768,"y":0.38},{"x":770,"y":0.08},{"x":770,"y":0.9},{"x":772,"y":0.95},{"x":773,"y":0.975},{"x":773,"y":0.46},{"x":775,"y":0.26},{"x":775,"y":0.13},{"x":770,"y":0.77},{"x":773,"y":0.775},{"x":775,"y":0.79},{"x":777,"y":0.8},{"x":780,"y":0.815},{"x":783,"y":0.83},{"x":785,"y":0.845},{"x":787,"y":0.86},{"x":770,"y":0.735},{"x":772,"y":0.73},{"x":775,"y":0.72},{"x":777,"y":0.71},{"x":778,"y":0.695},{"x":780,"y":0.68},{"x":783,"y":0.665},{"x":785,"y":0.645},{"x":787,"y":0.615},{"x":790,"y":0.57},{"x":793,"y":0.5},{"x":793,"y":0.365},{"x":795,"y":0.395},{"x":795,"y":0.055},{"x":790,"y":0.88},{"x":793,"y":0.925},{"x":795,"y":0.99},{"x":800,"y":0.115},{"x":797,"y":0.985},{"x":800,"y":0.68},{"x":800,"y":0.66},{"x":805,"y":0.635},{"x":800,"y":0.815},{"x":802,"y":0.845},{"x":805,"y":0.87},{"x":807,"y":0.6},{"x":807,"y":0.9},{"x":808,"y":0.55},{"x":808,"y":0.465},{"x":810,"y":0.28},{"x":810,"y":0.985},{"x":813,"y":0.945},{"x":813,"y":0.075},{"x":815,"y":0.505},{"x":815,"y":0.92},{"x":818,"y":0.075},{"x":818,"y":0.495},{"x":818,"y":0.375},{"x":820,"y":0.985},{"x":822,"y":0.925},{"x":822,"y":0.365},{"x":824,"y":0.055},{"x":828,"y":0.985},{"x":827,"y":0.09},{"x":827,"y":0.385},{"x":828,"y":0.58},{"x":830,"y":0.515},{"x":832,"y":0.92},{"x":833,"y":0.88},{"x":835,"y":0.985},{"x":835,"y":0.095},{"x":835,"y":0.39},{"x":837,"y":0.605},{"x":840,"y":0.865},{"x":840,"y":0.56},{"x":840,"y":0.89},{"x":843,"y":0.48},{"x":845,"y":0.94},{"x":845,"y":0.995},{"x":847,"y":0.315},{"x":845,"y":0.02},{"x":848,"y":0.85},{"x":850,"y":0.875},{"x":850,"y":0.59},{"x":852,"y":0.17},{"x":853,"y":0.535},{"x":855,"y":0.91},{"x":857,"y":0.965},{"x":856,"y":0.435},{"x":860,"y":0.905},{"x":862,"y":0.195},{"x":863,"y":0.965},{"x":865,"y":0.435},{"x":865,"y":0.2},{"x":868,"y":0.405},{"x":868,"y":0.98},{"x":870,"y":0.915},{"x":870,"y":0.14},{"x":862,"y":0.765},{"x":865,"y":0.77},{"x":867,"y":0.78},{"x":870,"y":0.79},{"x":872,"y":0.805},{"x":874,"y":0.82},{"x":877,"y":0.835},{"x":880,"y":0.85},{"x":862,"y":0.735},{"x":865,"y":0.73},{"x":867,"y":0.72},{"x":870,"y":0.71},{"x":872,"y":0.695},{"x":874,"y":0.675},{"x":875,"y":0.655},{"x":876,"y":0.625},{"x":883,"y":0.875},{"x":883,"y":0.915},{"x":885,"y":0.62},{"x":885,"y":0.59},{"x":888,"y":0.97},{"x":888,"y":0.84},{"x":888,"y":0.525},{"x":888,"y":0.165},{"x":892,"y":0.585},{"x":893,"y":0.855},{"x":895,"y":0.88},{"x":895,"y":0.415},{"x":895,"y":0.515},{"x":900,"y":0.925},{"x":900,"y":0.98},{"x":900,"y":0.805},{"x":902,"y":0.115},{"x":902,"y":0.4},{"x":905,"y":0.695},{"x":905,"y":0.68},{"x":905,"y":0.66},{"x":907,"y":0.835},{"x":908,"y":0.635},{"x":910,"y":0.875},{"x":910,"y":0.6},{"x":910,"y":0.265},{"x":912,"y":0.855},{"x":915,"y":0.545},{"x":915,"y":0.46},{"x":918,"y":0.985},{"x":918,"y":0.95},{"x":920,"y":0.915},{"x":920,"y":0.885},{"x":923,"y":0.115},{"x":925,"y":0.695},{"x":925,"y":0.675},{"x":925,"y":0.655},{"x":928,"y":0.805},{"x":928,"y":0.84},{"x":930,"y":0.85},{"x":933,"y":0.595},{"x":935,"y":0.63},{"x":935,"y":0.54},{"x":937,"y":0.965},{"x":937,"y":0.445},{"x":935,"y":0.875},{"x":938,"y":0.905},{"x":940,"y":0.95},{"x":942,"y":0.225},{"x":945,"y":0.275},{"x":945,"y":0.55},{"x":945,"y":0.98},{"x":948,"y":0.08},{"x":950,"y":0.465},{"x":952,"y":0.895},{"x":952,"y":0.275},{"x":955,"y":0.555},{"x":955,"y":0.945},{"x":957,"y":0.08},{"x":958,"y":0.985},{"x":960,"y":0.47},{"x":960,"y":0.285},{"x":962,"y":0.985},{"x":965,"y":0.05},{"x":965,"y":0.38},{"x":968,"y":0.075},{"x":970,"y":0.53},{"x":970,"y":0.42},{"x":973,"y":0.91},{"x":975,"y":0.965},{"x":975,"y":0.85},{"x":978,"y":0.875},{"x":980,"y":0.585},{"x":980,"y":0.42},{"x":980,"y":0.17},{"x":982,"y":0.53},{"x":985,"y":0.91},{"x":985,"y":0.855},{"x":988,"y":0.875},{"x":988,"y":0.17},{"x":990,"y":0.58},{"x":992,"y":0.52},{"x":995,"y":0.915},{"x":995,"y":0.4},{"x":998,"y":0.98},{"x":998,"y":0.125},{"x":1002,"y":0.72},{"x":1005,"y":0.71},{"x":1007,"y":0.695},{"x":1008,"y":0.68},{"x":1010,"y":0.665},{"x":1000,"y":0.785},{"x":1003,"y":0.795},{"x":1005,"y":0.81},{"x":1010,"y":0.825}],
"ha":[{"a":0,"b":0.1,"n":180},{"a":0.1,"b":0.2,"n":79},{"a":0.2,"b":0.3,"n":81},{"a":0.3,"b":0.4,"n":77},{"a":0.4,"b":0.5,"n":58},{"a":0.5,"b":0.6,"n":63},{"a":0.6,"b":0.7,"n":75},{"a":0.7,"b":0.8,"n":81},{"a":0.8,"b":0.9,"n":98},{"a":0.9,"b":1,"n":208}],
"hb":[{"a":0,"b":0.1,"n":82},{"a":0.1,"b":0.2,"n":92},{"a":0.2,"b":0.3,"n":102},{"a":0.3,"b":0.4,"n":102},{"a":0.4,"b":0.5,"n":109},{"a":0.5,"b":0.6,"n":96},{"a":0.6,"b":0.7,"n":110},{"a":0.7,"b":0.8,"n":102},{"a":0.8,"b":0.9,"n":112},{"a":0.9,"b":1,"n":93}],
"hc":[{"a":0,"b":0.1,"n":105},{"a":0.1,"b":0.2,"n":88},{"a":0.2,"b":0.3,"n":85},{"a":0.3,"b":0.4,"n":103},{"a":0.4,"b":0.5,"n":104},{"a":0.5,"b":0.6,"n":90},{"a":0.6,"b":0.7,"n":110},{"a":0.7,"b":0.8,"n":101},{"a":0.8,"b":0.9,"n":117},{"a":0.9,"b":1,"n":97}],
"hd":[{"a":0,"b":0.1,"n":81},{"a":0.1,"b":0.2,"n":116},{"a":0.2,"b":0.3,"n":98},{"a":0.3,"b":0.4,"n":104},{"a":0.4,"b":0.5,"n":113},{"a":0.5,"b":0.6,"n":103},{"a":0.6,"b":0.7,"n":104},{"a":0.7,"b":0.8,"n":99},{"a":0.8,"b":0.9,"n":96},{"a":0.9,"b":1,"n":87}],
"he":[{"a":0,"b":0.1,"n":92},{"a":0.1,"b":0.2,"n":89},{"a":0.2,"b":0.3,"n":111},{"a":0.3,"b":0.4,"n":96},{"a":0.4,"b":0.5,"n":98},{"a":0.5,"b":0.6,"n":109},{"a":0.6,"b":0.7,"n":105},{"a":0.7,"b":0.8,"n":98},{"a":0.8,"b":0.9,"n":116},{"a":0.9,"b":1,"n":87}],
"hf":[{"a":0,"b":0.1,"n":58},{"a":0.1,"b":0.2,"n":51},{"a":0.2,"b":0.3,"n":35},{"a":0.3,"b":0.4,"n":50},{"a":0.4,"b":0.5,"n":60},{"a":0.5,"b":0.6,"n":98},{"a":0.6,"b":0.7,"n":116},{"a":0.7,"b":0.8,"n":147},{"a":0.8,"b":0.9,"n":192},{"a":0.9,"b":1,"n":193}]},
"concat":[
{"width":979,"height":718,"data":{"name":"sa"},"resolve":{"axis":{"x":"independent","y":"independent"}},"layer":[{"mark":"point","encoding":{"x":{"field":"x","type":"quantitative","scale":{"domain":[0,1000],"range":[12,944]},"axis":{"title":"Iteration","offset":-5,"values":[0,200,400,600,800,1000],"format":"d"}},"y":{"field":"y","type":"quantitative","scale":{"domain":[0,1],"range":[713,3]},"axis":{"title":"Initial value","offset":-12,"values":[0,0.2,0.4,0.6,0.8,1],"format":"~g"}}}},{"mark":"rule","encoding":{"x":{"field":"x","type":"quantitative","axis":{"orient":"top","title":null,"offset":-3,"values":[0,200,400,600,800,1000]}},"y":{"field":"y","type":"quantitative","axis":{"orient":"right","title":null,"offset":-35,"values":[0,0.2,0.4,0.6,0.8,1]}}}}]},
{"width":960,"height":718,"data":{"name":"sb"},"resolve":{"axis":{"x":"independent","y":"independent"}},"layer":[{"mark":"point","encoding":{"x":{"field":"x","type":"quantitative","scale":{"domain":[0,1000],"range":[0,931]},"axis":{"title":"Iteration","offset":-6,"values":[0,200,400,600,800,1000],"format":"d"}},"y":{"field":"y","type":"quantitative","scale":{"domain":[0,1],"range":[712,0]},"axis":{"title":"Initial value","offset":0,"values":[0,0.2,0.4,0.6,0.8,1],"format":"~g"}}}},{"mark":"rule","encoding":{"x":{"field":"x","type":"quantitative","axis":{"orient":"top","title":null,"offset":0,"values":[0,200,400,600,800,1000]}},"y":{"field":"y","type":"quantitative","axis":{"orient":"right","title":null,"offset":-29,"values":[0,0.2,0.4,0.6,0.8,1]}}}}]},
{"width":990,"height":718,"data":{"name":"sc"},"resolve":{"axis":{"x":"independent","y":"independent"}},"layer":[{"mark":"point","encoding":{"x":{"field":"x","type":"quantitative","scale":{"domain":[0,1000],"range":[4,932]},"axis":{"title":"Iteration","offset":-8,"values":[0,200,400,600,800,1000],"format":"d"}},"y":{"field":"y","type":"quantitative","scale":{"domain":[0,1],"range":[710,2]},"axis":{"title":"Initial value","offset":-4,"values":[0,0.2,0.4,0.6,0.8,1],"format":"~g"}}}},{"mark":"rule","encoding":{"x":{"field":"x","type":"quantitative","axis":{"orient":"top","title":null,"offset":-2,"values":[0,200,400,600,800,1000]}},"y":{"field":"y","type":"quantitative","axis":{"orient":"right","title":null,"offset":-58,"values":[0,0.2,0.4,0.6,0.8,1]}}}}]},

{"width":979,"height":871,"data":{"name":"ha"},"title":{"text":"(a)","dx":-180,"offset":25},"resolve":{"axis":{"x":"independent","y":"independent"}},"layer":[{"mark":"bar","encoding":{"x":{"field":"a","bin":{"binned":true},"type":"quantitative","scale":{"domain":[0,1],"range":[12,944]},"axis":{"title":"Initial value","offset":-162,"values":[0,0.2,0.4,0.6,0.8,1],"format":"~g"}},"x2":{"field":"b"},"y":{"field":"n","type":"quantitative","scale":{"domain":[0,250],"nice":false,"range":[709,0]},"axis":{"title":"count of occurrences","titleX":-113,"offset":-12,"values":[0,50,100,150,200,250]}}}},{"mark":"rule","encoding":{"x":{"field":"a","type":"quantitative","axis":{"orient":"top","title":null,"offset":0,"values":[0,0.2,0.4,0.6,0.8,1]}},"y":{"field":"n","type":"quantitative","axis":{"orient":"right","title":null,"offset":-35,"values":[0,50,100,150,200,250]}}}}]},
{"width":960,"height":871,"data":{"name":"hb"},"title":{"text":"(b)","dx":-185,"offset":25},"resolve":{"axis":{"x":"independent","y":"independent"}},"layer":[{"mark":"bar","encoding":{"x":{"field":"a","bin":{"binned":true},"type":"quantitative","scale":{"domain":[0,1],"range":[3,927]},"axis":{"title":"Initial value","offset":-161,"values":[0,0.2,0.4,0.6,0.8,1],"format":"~g"}},"x2":{"field":"b"},"y":{"field":"n","type":"quantitative","scale":{"domain":[0,120],"range":[710,2]},"axis":{"title":"count of occurrences","titleX":-113,"offset":-3,"values":[0,20,40,60,80,100,120]}}}},{"mark":"rule","encoding":{"x":{"field":"a","type":"quantitative","axis":{"orient":"top","title":null,"offset":-2,"values":[0,0.2,0.4,0.6,0.8,1]}},"y":{"field":"n","type":"quantitative","axis":{"orient":"right","title":null,"offset":-33,"values":[0,20,40,60,80,100,120]}}}}]},
{"width":990,"height":871,"data":{"name":"hc"},"title":{"text":"(c)","dx":-41,"offset":25},"resolve":{"axis":{"x":"independent","y":"independent"}},"layer":[{"mark":"bar","encoding":{"x":{"field":"a","bin":{"binned":true},"type":"quantitative","scale":{"domain":[0,1],"range":[0,929]},"axis":{"title":"Initial value","offset":-161,"values":[0,0.2,0.4,0.6,0.8,1],"format":"~g"}},"x2":{"field":"b"},"y":{"field":"n","type":"quantitative","scale":{"domain":[0,120],"range":[710,2]},"axis":{"title":"count of occurrences","titleX":-111,"offset":0,"values":[0,20,40,60,80,100,120]}}}},{"mark":"rule","encoding":{"x":{"field":"a","type":"quantitative","axis":{"orient":"top","title":null,"offset":-2,"values":[0,0.2,0.4,0.6,0.8,1]}},"y":{"field":"n","type":"quantitative","axis":{"orient":"right","title":null,"offset":-61,"values":[0,20,40,60,80,100,120]}}}}]},

{"width":979,"height":731,"data":{"name":"sd"},"resolve":{"axis":{"x":"independent","y":"independent"}},"layer":[{"mark":"point","encoding":{"x":{"field":"x","type":"quantitative","scale":{"domain":[0,1000],"range":[0,942]},"axis":{"title":"Iteration","offset":-1,"values":[0,200,400,600,800,1000],"format":"d"}},"y":{"field":"y","type":"quantitative","scale":{"domain":[0,1],"range":[730,5]},"axis":{"title":"Initial value","offset":0,"values":[0,0.2,0.4,0.6,0.8,1],"format":"~g"}}}},{"mark":"rule","encoding":{"x":{"field":"x","type":"quantitative","axis":{"orient":"top","title":null,"offset":-5,"values":[0,200,400,600,800,1000]}},"y":{"field":"y","type":"quantitative","axis":{"orient":"right","title":null,"offset":-37,"values":[0,0.2,0.4,0.6,0.8,1]}}}}]},
{"width":960,"height":731,"data":{"name":"se"},"resolve":{"axis":{"x":"independent","y":"independent"}},"layer":[{"mark":"point","encoding":{"x":{"field":"x","type":"quantitative","scale":{"domain":[0,1000],"range":[13,960]},"axis":{"title":"Iteration","offset":-12,"values":[0,200,400,600,800,1000],"format":"d"}},"y":{"field":"y","type":"quantitative","scale":{"domain":[0,1],"range":[719,0]},"axis":{"title":"Initial value","offset":-13,"values":[0,0.2,0.4,0.6,0.8,1],"format":"~g"}}}},{"mark":"rule","encoding":{"x":{"field":"x","type":"quantitative","axis":{"orient":"top","title":null,"offset":0,"values":[0,200,400,600,800,1000]}},"y":{"field":"y","type":"quantitative","axis":{"orient":"right","title":null,"offset":0,"values":[0,0.2,0.4,0.6,0.8,1]}}}}]},
{"width":990,"height":731,"data":{"name":"sf"},"resolve":{"axis":{"x":"independent","y":"independent"}},"layer":[{"mark":"point","encoding":{"x":{"field":"x","type":"quantitative","scale":{"domain":[0,1000],"range":[42,990]},"axis":{"title":"Iteration","offset":0,"values":[0,200,400,600,800,1000],"format":"d"}},"y":{"field":"y","type":"quantitative","scale":{"domain":[0,1],"range":[731,6]},"axis":{"title":"Initial value","offset":-42,"values":[0,0.2,0.4,0.6,0.8,1],"format":"~g"}}}},{"mark":"rule","encoding":{"x":{"field":"x","type":"quantitative","axis":{"orient":"top","title":null,"offset":-6,"values":[0,200,400,600,800,1000]}},"y":{"field":"y","type":"quantitative","axis":{"orient":"right","title":null,"offset":0,"values":[0,0.2,0.4,0.6,0.8,1]}}}}]},

{"width":979,"height":732,"data":{"name":"hd"},"title":{"text":"(d)","dx":-180,"offset":55},"resolve":{"axis":{"x":"independent","y":"independent"}},"layer":[{"mark":"bar","encoding":{"x":{"field":"a","bin":{"binned":true},"type":"quantitative","scale":{"domain":[0,1],"range":[0,942]},"axis":{"title":"Initial value","offset":0,"values":[0,0.2,0.4,0.6,0.8,1],"format":"~g"}},"x2":{"field":"b"},"y":{"field":"n","type":"quantitative","scale":{"domain":[0,120],"range":[732,7]},"axis":{"title":"count of occurrences","titleX":-113,"offset":0,"values":[0,20,40,60,80,100,120]}}}},{"mark":"rule","encoding":{"x":{"field":"a","type":"quantitative","axis":{"orient":"top","title":null,"offset":-7,"values":[0,0.2,0.4,0.6,0.8,1]}},"y":{"field":"n","type":"quantitative","axis":{"orient":"right","title":null,"offset":-37,"values":[0,20,40,60,80,100,120]}}}}]},
{"width":960,"height":732,"data":{"name":"he"},"title":{"text":"(e)","dx":-185,"offset":68},"resolve":{"axis":{"x":"independent","y":"independent"}},"layer":[{"mark":"bar","encoding":{"x":{"field":"a","bin":{"binned":true},"type":"quantitative","scale":{"domain":[0,1],"range":[8,952]},"axis":{"title":"Initial value","offset":-13,"values":[0,0.2,0.4,0.6,0.8,1],"format":"~g"}},"x2":{"field":"b"},"y":{"field":"n","type":"quantitative","scale":{"domain":[0,120],"range":[719,0]},"axis":{"title":"count of occurrences","titleX":-115,"offset":-8,"values":[0,20,40,60,80,100,120]}}}},{"mark":"rule","encoding":{"x":{"field":"a","type":"quantitative","axis":{"orient":"top","title":null,"offset":0,"values":[0,0.2,0.4,0.6,0.8,1]}},"y":{"field":"n","type":"quantitative","axis":{"orient":"right","title":null,"offset":-8,"values":[0,20,40,60,80,100,120]}}}}]},
{"width":990,"height":732,"data":{"name":"hf"},"title":{"text":"(f)","dx":-41,"offset":60},"resolve":{"axis":{"x":"independent","y":"independent"}},"layer":[{"mark":"bar","encoding":{"x":{"field":"a","bin":{"binned":true},"type":"quantitative","scale":{"domain":[0,1],"range":[55,982]},"axis":{"title":"Initial value","offset":-5,"values":[0,0.2,0.4,0.6,0.8,1],"format":"~g"}},"x2":{"field":"b"},"y":{"field":"n","type":"quantitative","scale":{"domain":[0,200],"range":[727,5]},"axis":{"title":"count of occurrences","titleX":-133,"offset":-55,"values":[0,50,100,150,200]}}}},{"mark":"rule","encoding":{"x":{"field":"a","type":"quantitative","axis":{"orient":"top","title":null,"offset":-5,"values":[0,0.2,0.4,0.6,0.8,1]}},"y":{"field":"n","type":"quantitative","axis":{"orient":"right","title":null,"offset":-8,"values":[0,50,100,150,200]}}}}]}
]}
